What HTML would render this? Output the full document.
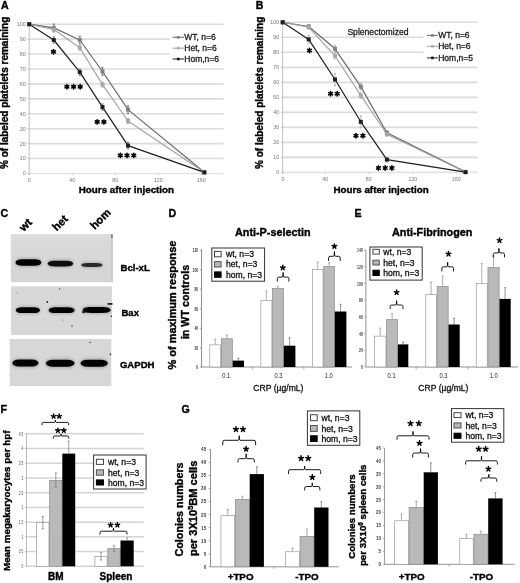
<!DOCTYPE html>
<html><head><meta charset="utf-8"><style>
html,body{margin:0;padding:0;background:#fff;}
body{width:520px;height:583px;overflow:hidden;}
svg{display:block;font-family:"Liberation Sans", sans-serif;will-change:transform;}
</style></head><body>
<svg width="520" height="583" viewBox="0 0 520 583">
<rect x="0" y="0" width="520" height="583" fill="#fff"/>
<line x1="29.2" y1="173.5" x2="223.7" y2="173.5" stroke="#e4e4e4" stroke-width="1.6" />
<line x1="29.2" y1="158.57" x2="223.7" y2="158.57" stroke="#dcdcdc" stroke-width="1.6" />
<line x1="29.2" y1="143.64" x2="223.7" y2="143.64" stroke="#dcdcdc" stroke-width="1.6" />
<line x1="29.2" y1="128.71" x2="223.7" y2="128.71" stroke="#dcdcdc" stroke-width="1.6" />
<line x1="29.2" y1="113.78" x2="223.7" y2="113.78" stroke="#dcdcdc" stroke-width="1.6" />
<line x1="29.2" y1="98.85" x2="223.7" y2="98.85" stroke="#dcdcdc" stroke-width="1.6" />
<line x1="29.2" y1="83.92" x2="223.7" y2="83.92" stroke="#dcdcdc" stroke-width="1.6" />
<line x1="29.2" y1="68.99" x2="223.7" y2="68.99" stroke="#dcdcdc" stroke-width="1.6" />
<line x1="29.2" y1="54.06" x2="169.6" y2="54.06" stroke="#dcdcdc" stroke-width="1.6" />
<line x1="29.2" y1="39.13" x2="169.6" y2="39.13" stroke="#dcdcdc" stroke-width="1.6" />
<line x1="29.2" y1="24.2" x2="223.7" y2="24.2" stroke="#dcdcdc" stroke-width="1.6" />
<line x1="29.2" y1="24.2" x2="29.2" y2="175.0" stroke="#b0b0b0" stroke-width="0.8" />
<line x1="27.2" y1="173.5" x2="29.2" y2="173.5" stroke="#b0b0b0" stroke-width="0.6" />
<line x1="27.2" y1="158.57" x2="29.2" y2="158.57" stroke="#b0b0b0" stroke-width="0.6" />
<line x1="27.2" y1="143.64" x2="29.2" y2="143.64" stroke="#b0b0b0" stroke-width="0.6" />
<line x1="27.2" y1="128.71" x2="29.2" y2="128.71" stroke="#b0b0b0" stroke-width="0.6" />
<line x1="27.2" y1="113.78" x2="29.2" y2="113.78" stroke="#b0b0b0" stroke-width="0.6" />
<line x1="27.2" y1="98.85" x2="29.2" y2="98.85" stroke="#b0b0b0" stroke-width="0.6" />
<line x1="27.2" y1="83.92" x2="29.2" y2="83.92" stroke="#b0b0b0" stroke-width="0.6" />
<line x1="27.2" y1="68.99" x2="29.2" y2="68.99" stroke="#b0b0b0" stroke-width="0.6" />
<line x1="27.2" y1="54.06" x2="29.2" y2="54.06" stroke="#b0b0b0" stroke-width="0.6" />
<line x1="27.2" y1="39.129999999999995" x2="29.2" y2="39.129999999999995" stroke="#b0b0b0" stroke-width="0.6" />
<line x1="27.2" y1="24.19999999999999" x2="29.2" y2="24.19999999999999" stroke="#b0b0b0" stroke-width="0.6" />
<text x="25.599999999999998" y="175.41" font-size="5.3" font-weight="normal" text-anchor="end" fill="#777" >0</text>
<text x="25.599999999999998" y="160.48" font-size="5.3" font-weight="normal" text-anchor="end" fill="#777" >10</text>
<text x="25.599999999999998" y="145.55" font-size="5.3" font-weight="normal" text-anchor="end" fill="#777" >20</text>
<text x="25.599999999999998" y="130.62" font-size="5.3" font-weight="normal" text-anchor="end" fill="#777" >30</text>
<text x="25.599999999999998" y="115.69" font-size="5.3" font-weight="normal" text-anchor="end" fill="#777" >40</text>
<text x="25.599999999999998" y="100.76" font-size="5.3" font-weight="normal" text-anchor="end" fill="#777" >50</text>
<text x="25.599999999999998" y="85.83" font-size="5.3" font-weight="normal" text-anchor="end" fill="#777" >60</text>
<text x="25.599999999999998" y="70.9" font-size="5.3" font-weight="normal" text-anchor="end" fill="#777" >70</text>
<text x="25.599999999999998" y="55.97" font-size="5.3" font-weight="normal" text-anchor="end" fill="#777" >80</text>
<text x="25.599999999999998" y="41.04" font-size="5.3" font-weight="normal" text-anchor="end" fill="#777" >90</text>
<text x="25.599999999999998" y="26.11" font-size="5.3" font-weight="normal" text-anchor="end" fill="#777" >100</text>
<text x="29.2" y="182.1" font-size="5.3" font-weight="normal" text-anchor="middle" fill="#777" >0</text>
<line x1="29.2" y1="173.5" x2="29.2" y2="175.3" stroke="#b0b0b0" stroke-width="0.6" />
<text x="72.2" y="182.1" font-size="5.3" font-weight="normal" text-anchor="middle" fill="#777" >40</text>
<line x1="72.2" y1="173.5" x2="72.2" y2="175.3" stroke="#b0b0b0" stroke-width="0.6" />
<text x="115.2" y="182.1" font-size="5.3" font-weight="normal" text-anchor="middle" fill="#777" >80</text>
<line x1="115.2" y1="173.5" x2="115.2" y2="175.3" stroke="#b0b0b0" stroke-width="0.6" />
<text x="158.2" y="182.1" font-size="5.3" font-weight="normal" text-anchor="middle" fill="#777" >120</text>
<line x1="158.2" y1="173.5" x2="158.2" y2="175.3" stroke="#b0b0b0" stroke-width="0.6" />
<text x="201.2" y="182.1" font-size="5.3" font-weight="normal" text-anchor="middle" fill="#777" >160</text>
<line x1="201.2" y1="173.5" x2="201.2" y2="175.3" stroke="#b0b0b0" stroke-width="0.6" />
<polyline points="29.2,24.2 53.8,27.9 79.8,40.0 102.5,71.5 128.0,109.6 204.3,172.2" fill="none" stroke="#6a6a6a" stroke-width="1.2" stroke-linejoin="round"/>
<polyline points="29.2,24.2 53.8,29.5 79.8,47.7 102.5,84.6 128.0,121.0 204.3,172.2" fill="none" stroke="#a0a0a0" stroke-width="1.1" stroke-linejoin="round"/>
<polyline points="29.2,24.2 53.8,40.0 79.8,72.1 102.5,107.1 128.0,145.6 204.3,172.4" fill="none" stroke="#1e1e1e" stroke-width="1.2" stroke-linejoin="round"/>
<line x1="53.8" y1="24.099999999999998" x2="53.8" y2="31.7" stroke="#606060" stroke-width="0.8" />
<line x1="52.699999999999996" y1="24.099999999999998" x2="54.9" y2="24.099999999999998" stroke="#606060" stroke-width="0.9" />
<line x1="52.699999999999996" y1="31.7" x2="54.9" y2="31.7" stroke="#606060" stroke-width="0.9" />
<line x1="79.8" y1="36.2" x2="79.8" y2="43.8" stroke="#606060" stroke-width="0.8" />
<line x1="78.7" y1="36.2" x2="80.89999999999999" y2="36.2" stroke="#606060" stroke-width="0.9" />
<line x1="78.7" y1="43.8" x2="80.89999999999999" y2="43.8" stroke="#606060" stroke-width="0.9" />
<line x1="102.5" y1="67.7" x2="102.5" y2="75.3" stroke="#606060" stroke-width="0.8" />
<line x1="101.4" y1="67.7" x2="103.6" y2="67.7" stroke="#606060" stroke-width="0.9" />
<line x1="101.4" y1="75.3" x2="103.6" y2="75.3" stroke="#606060" stroke-width="0.9" />
<line x1="128.0" y1="105.8" x2="128.0" y2="113.39999999999999" stroke="#606060" stroke-width="0.8" />
<line x1="126.9" y1="105.8" x2="129.1" y2="105.8" stroke="#606060" stroke-width="0.9" />
<line x1="126.9" y1="113.39999999999999" x2="129.1" y2="113.39999999999999" stroke="#606060" stroke-width="0.9" />
<line x1="53.8" y1="27.0" x2="53.8" y2="32.0" stroke="#a0a0a0" stroke-width="0.8" />
<line x1="52.699999999999996" y1="27.0" x2="54.9" y2="27.0" stroke="#a0a0a0" stroke-width="0.9" />
<line x1="52.699999999999996" y1="32.0" x2="54.9" y2="32.0" stroke="#a0a0a0" stroke-width="0.9" />
<line x1="79.8" y1="45.2" x2="79.8" y2="50.2" stroke="#a0a0a0" stroke-width="0.8" />
<line x1="78.7" y1="45.2" x2="80.89999999999999" y2="45.2" stroke="#a0a0a0" stroke-width="0.9" />
<line x1="78.7" y1="50.2" x2="80.89999999999999" y2="50.2" stroke="#a0a0a0" stroke-width="0.9" />
<line x1="102.5" y1="82.1" x2="102.5" y2="87.1" stroke="#a0a0a0" stroke-width="0.8" />
<line x1="101.4" y1="82.1" x2="103.6" y2="82.1" stroke="#a0a0a0" stroke-width="0.9" />
<line x1="101.4" y1="87.1" x2="103.6" y2="87.1" stroke="#a0a0a0" stroke-width="0.9" />
<line x1="128.0" y1="118.5" x2="128.0" y2="123.5" stroke="#a0a0a0" stroke-width="0.8" />
<line x1="126.9" y1="118.5" x2="129.1" y2="118.5" stroke="#a0a0a0" stroke-width="0.9" />
<line x1="126.9" y1="123.5" x2="129.1" y2="123.5" stroke="#a0a0a0" stroke-width="0.9" />
<line x1="53.8" y1="36.8" x2="53.8" y2="43.2" stroke="#707070" stroke-width="0.8" />
<line x1="52.699999999999996" y1="36.8" x2="54.9" y2="36.8" stroke="#707070" stroke-width="0.9" />
<line x1="52.699999999999996" y1="43.2" x2="54.9" y2="43.2" stroke="#707070" stroke-width="0.9" />
<line x1="79.8" y1="68.89999999999999" x2="79.8" y2="75.3" stroke="#707070" stroke-width="0.8" />
<line x1="78.7" y1="68.89999999999999" x2="80.89999999999999" y2="68.89999999999999" stroke="#707070" stroke-width="0.9" />
<line x1="78.7" y1="75.3" x2="80.89999999999999" y2="75.3" stroke="#707070" stroke-width="0.9" />
<line x1="102.5" y1="103.89999999999999" x2="102.5" y2="110.3" stroke="#707070" stroke-width="0.8" />
<line x1="101.4" y1="103.89999999999999" x2="103.6" y2="103.89999999999999" stroke="#707070" stroke-width="0.9" />
<line x1="101.4" y1="110.3" x2="103.6" y2="110.3" stroke="#707070" stroke-width="0.9" />
<line x1="128.0" y1="142.4" x2="128.0" y2="148.79999999999998" stroke="#707070" stroke-width="0.8" />
<line x1="126.9" y1="142.4" x2="129.1" y2="142.4" stroke="#707070" stroke-width="0.9" />
<line x1="126.9" y1="148.79999999999998" x2="129.1" y2="148.79999999999998" stroke="#707070" stroke-width="0.9" />
<rect x="27.2" y="22.2" width="4.0" height="4.0" fill="#808080" stroke="none" stroke-width="1" />
<rect x="51.8" y="25.9" width="4.0" height="4.0" fill="#808080" stroke="none" stroke-width="1" />
<rect x="77.8" y="38.0" width="4.0" height="4.0" fill="#808080" stroke="none" stroke-width="1" />
<rect x="100.5" y="69.5" width="4.0" height="4.0" fill="#808080" stroke="none" stroke-width="1" />
<rect x="126.0" y="107.6" width="4.0" height="4.0" fill="#808080" stroke="none" stroke-width="1" />
<rect x="202.3" y="170.2" width="4.0" height="4.0" fill="#808080" stroke="none" stroke-width="1" />
<rect x="27.2" y="22.2" width="4.0" height="4.0" fill="#a8a8a8" stroke="none" stroke-width="1" />
<rect x="51.8" y="27.5" width="4.0" height="4.0" fill="#a8a8a8" stroke="none" stroke-width="1" />
<rect x="77.8" y="45.7" width="4.0" height="4.0" fill="#a8a8a8" stroke="none" stroke-width="1" />
<rect x="100.5" y="82.6" width="4.0" height="4.0" fill="#a8a8a8" stroke="none" stroke-width="1" />
<rect x="126.0" y="119.0" width="4.0" height="4.0" fill="#a8a8a8" stroke="none" stroke-width="1" />
<rect x="202.3" y="170.2" width="4.0" height="4.0" fill="#a8a8a8" stroke="none" stroke-width="1" />
<rect x="27.2" y="22.2" width="4.0" height="4.0" fill="#1e1e1e" stroke="none" stroke-width="1" />
<rect x="51.8" y="38.0" width="4.0" height="4.0" fill="#1e1e1e" stroke="none" stroke-width="1" />
<rect x="77.8" y="70.1" width="4.0" height="4.0" fill="#1e1e1e" stroke="none" stroke-width="1" />
<rect x="100.5" y="105.1" width="4.0" height="4.0" fill="#1e1e1e" stroke="none" stroke-width="1" />
<rect x="126.0" y="143.6" width="4.0" height="4.0" fill="#1e1e1e" stroke="none" stroke-width="1" />
<rect x="202.3" y="170.4" width="4.0" height="4.0" fill="#1e1e1e" stroke="none" stroke-width="1" />
<path d="M53.50,49.60L53.50,54.00M55.41,50.70L51.59,52.90M55.41,52.90L51.59,50.70" stroke="#000" stroke-width="1.6" stroke-linecap="round" fill="none"/>
<path d="M66.90,84.60L66.90,89.00M68.81,85.70L64.99,87.90M68.81,87.90L64.99,85.70" stroke="#000" stroke-width="1.6" stroke-linecap="round" fill="none"/>
<path d="M73.60,84.60L73.60,89.00M75.51,85.70L71.69,87.90M75.51,87.90L71.69,85.70" stroke="#000" stroke-width="1.6" stroke-linecap="round" fill="none"/>
<path d="M80.20,84.60L80.20,89.00M82.11,85.70L78.29,87.90M82.11,87.90L78.29,85.70" stroke="#000" stroke-width="1.6" stroke-linecap="round" fill="none"/>
<path d="M97.20,119.70L97.20,124.10M99.11,120.80L95.29,123.00M99.11,123.00L95.29,120.80" stroke="#000" stroke-width="1.6" stroke-linecap="round" fill="none"/>
<path d="M103.90,119.70L103.90,124.10M105.81,120.80L101.99,123.00M105.81,123.00L101.99,120.80" stroke="#000" stroke-width="1.6" stroke-linecap="round" fill="none"/>
<path d="M120.30,153.20L120.30,157.60M122.21,154.30L118.39,156.50M122.21,156.50L118.39,154.30" stroke="#000" stroke-width="1.6" stroke-linecap="round" fill="none"/>
<path d="M127.00,153.20L127.00,157.60M128.91,154.30L125.09,156.50M128.91,156.50L125.09,154.30" stroke="#000" stroke-width="1.6" stroke-linecap="round" fill="none"/>
<path d="M133.75,153.20L133.75,157.60M135.66,154.30L131.84,156.50M135.66,156.50L131.84,154.30" stroke="#000" stroke-width="1.6" stroke-linecap="round" fill="none"/>
<line x1="172.5" y1="37.3" x2="184" y2="37.3" stroke="#6a6a6a" stroke-width="1.0" />
<rect x="176.95" y="36.0" width="2.6" height="2.6" fill="#7a7a7a" stroke="none" stroke-width="1" />
<text x="184.3" y="40.3" font-size="8.5" font-weight="normal" text-anchor="start" fill="#1a1a1a" stroke="#1a1a1a" stroke-width="0.3" stroke-linejoin="round" >WT, n=6</text>
<line x1="172.5" y1="48.2" x2="184" y2="48.2" stroke="#a0a0a0" stroke-width="1.0" />
<rect x="176.95" y="46.9" width="2.6" height="2.6" fill="#aaa" stroke="none" stroke-width="1" />
<text x="184.3" y="51.2" font-size="8.5" font-weight="normal" text-anchor="start" fill="#1a1a1a" stroke="#1a1a1a" stroke-width="0.3" stroke-linejoin="round" >Het,  n=6</text>
<line x1="172.5" y1="59.0" x2="184" y2="59.0" stroke="#1e1e1e" stroke-width="1.0" />
<rect x="176.95" y="57.7" width="2.6" height="2.6" fill="#111" stroke="none" stroke-width="1" />
<text x="184.3" y="62.0" font-size="8.5" font-weight="normal" text-anchor="start" fill="#1a1a1a" stroke="#1a1a1a" stroke-width="0.3" stroke-linejoin="round" >Hom,n=6</text>
<text x="78.8" y="193.2" font-size="9.8" font-weight="bold" text-anchor="start" fill="#000" stroke="#000" stroke-width="0.38" stroke-linejoin="round" >Hours after injection</text>
<text transform="translate(8.0,92.85) rotate(-90)" font-size="10.0" font-weight="bold" text-anchor="middle" fill="#000" stroke="#000" stroke-width="0.38" stroke-linejoin="round" >% of labeled platelets remaining</text>
<text x="1.0" y="9.0" font-size="10.6" font-weight="bold" text-anchor="start" fill="#000" stroke="#000" stroke-width="0.38" stroke-linejoin="round" >A</text>
<line x1="282.7" y1="172.4" x2="477.7" y2="172.4" stroke="#e4e4e4" stroke-width="1.6" />
<line x1="282.7" y1="157.39" x2="477.7" y2="157.39" stroke="#dcdcdc" stroke-width="1.6" />
<line x1="282.7" y1="142.38" x2="477.7" y2="142.38" stroke="#dcdcdc" stroke-width="1.6" />
<line x1="282.7" y1="127.37" x2="477.7" y2="127.37" stroke="#dcdcdc" stroke-width="1.6" />
<line x1="282.7" y1="112.36" x2="477.7" y2="112.36" stroke="#dcdcdc" stroke-width="1.6" />
<line x1="282.7" y1="97.35" x2="477.7" y2="97.35" stroke="#dcdcdc" stroke-width="1.6" />
<line x1="282.7" y1="82.34" x2="477.7" y2="82.34" stroke="#dcdcdc" stroke-width="1.6" />
<line x1="282.7" y1="67.33" x2="477.7" y2="67.33" stroke="#dcdcdc" stroke-width="1.6" />
<line x1="282.7" y1="52.32" x2="423.5" y2="52.32" stroke="#dcdcdc" stroke-width="1.6" />
<line x1="282.7" y1="37.31" x2="423.5" y2="37.31" stroke="#dcdcdc" stroke-width="1.6" />
<line x1="282.7" y1="22.3" x2="477.7" y2="22.3" stroke="#dcdcdc" stroke-width="1.6" />
<line x1="282.7" y1="22.3" x2="282.7" y2="173.9" stroke="#b0b0b0" stroke-width="0.8" />
<line x1="280.7" y1="172.4" x2="282.7" y2="172.4" stroke="#b0b0b0" stroke-width="0.6" />
<line x1="280.7" y1="157.39000000000001" x2="282.7" y2="157.39000000000001" stroke="#b0b0b0" stroke-width="0.6" />
<line x1="280.7" y1="142.38" x2="282.7" y2="142.38" stroke="#b0b0b0" stroke-width="0.6" />
<line x1="280.7" y1="127.37" x2="282.7" y2="127.37" stroke="#b0b0b0" stroke-width="0.6" />
<line x1="280.7" y1="112.36000000000001" x2="282.7" y2="112.36000000000001" stroke="#b0b0b0" stroke-width="0.6" />
<line x1="280.7" y1="97.35000000000001" x2="282.7" y2="97.35000000000001" stroke="#b0b0b0" stroke-width="0.6" />
<line x1="280.7" y1="82.34" x2="282.7" y2="82.34" stroke="#b0b0b0" stroke-width="0.6" />
<line x1="280.7" y1="67.33000000000001" x2="282.7" y2="67.33000000000001" stroke="#b0b0b0" stroke-width="0.6" />
<line x1="280.7" y1="52.32000000000001" x2="282.7" y2="52.32000000000001" stroke="#b0b0b0" stroke-width="0.6" />
<line x1="280.7" y1="37.31" x2="282.7" y2="37.31" stroke="#b0b0b0" stroke-width="0.6" />
<line x1="280.7" y1="22.30000000000001" x2="282.7" y2="22.30000000000001" stroke="#b0b0b0" stroke-width="0.6" />
<text x="279.09999999999997" y="174.31" font-size="5.3" font-weight="normal" text-anchor="end" fill="#777" >0</text>
<text x="279.09999999999997" y="159.3" font-size="5.3" font-weight="normal" text-anchor="end" fill="#777" >10</text>
<text x="279.09999999999997" y="144.29" font-size="5.3" font-weight="normal" text-anchor="end" fill="#777" >20</text>
<text x="279.09999999999997" y="129.28" font-size="5.3" font-weight="normal" text-anchor="end" fill="#777" >30</text>
<text x="279.09999999999997" y="114.27" font-size="5.3" font-weight="normal" text-anchor="end" fill="#777" >40</text>
<text x="279.09999999999997" y="99.26" font-size="5.3" font-weight="normal" text-anchor="end" fill="#777" >50</text>
<text x="279.09999999999997" y="84.25" font-size="5.3" font-weight="normal" text-anchor="end" fill="#777" >60</text>
<text x="279.09999999999997" y="69.24" font-size="5.3" font-weight="normal" text-anchor="end" fill="#777" >70</text>
<text x="279.09999999999997" y="54.23" font-size="5.3" font-weight="normal" text-anchor="end" fill="#777" >80</text>
<text x="279.09999999999997" y="39.22" font-size="5.3" font-weight="normal" text-anchor="end" fill="#777" >90</text>
<text x="279.09999999999997" y="24.21" font-size="5.3" font-weight="normal" text-anchor="end" fill="#777" >100</text>
<text x="282.9" y="181.0" font-size="5.3" font-weight="normal" text-anchor="middle" fill="#777" >0</text>
<line x1="282.9" y1="172.4" x2="282.9" y2="174.20000000000002" stroke="#b0b0b0" stroke-width="0.6" />
<text x="325.3" y="181.0" font-size="5.3" font-weight="normal" text-anchor="middle" fill="#777" >40</text>
<line x1="325.3" y1="172.4" x2="325.3" y2="174.20000000000002" stroke="#b0b0b0" stroke-width="0.6" />
<text x="368.7" y="181.0" font-size="5.3" font-weight="normal" text-anchor="middle" fill="#777" >80</text>
<line x1="368.7" y1="172.4" x2="368.7" y2="174.20000000000002" stroke="#b0b0b0" stroke-width="0.6" />
<text x="412.8" y="181.0" font-size="5.3" font-weight="normal" text-anchor="middle" fill="#777" >120</text>
<line x1="412.8" y1="172.4" x2="412.8" y2="174.20000000000002" stroke="#b0b0b0" stroke-width="0.6" />
<text x="456.2" y="181.0" font-size="5.3" font-weight="normal" text-anchor="middle" fill="#777" >160</text>
<line x1="456.2" y1="172.4" x2="456.2" y2="174.20000000000002" stroke="#b0b0b0" stroke-width="0.6" />
<polyline points="282.7,22.3 308.7,26.5 335.0,48.8 360.8,86.6 386.9,132.7 465.5,171.9" fill="none" stroke="#6a6a6a" stroke-width="1.2" stroke-linejoin="round"/>
<polyline points="282.7,22.3 308.7,27.3 335.0,55.8 360.8,95.4 386.9,134.2 465.5,171.9" fill="none" stroke="#a0a0a0" stroke-width="1.1" stroke-linejoin="round"/>
<polyline points="282.7,22.3 308.7,39.4 335.0,79.5 360.8,121.8 386.9,159.6 465.5,172.2" fill="none" stroke="#1e1e1e" stroke-width="1.2" stroke-linejoin="round"/>
<line x1="308.7" y1="24.5" x2="308.7" y2="28.5" stroke="#a0a0a0" stroke-width="0.8" />
<line x1="307.59999999999997" y1="24.5" x2="309.8" y2="24.5" stroke="#a0a0a0" stroke-width="0.9" />
<line x1="307.59999999999997" y1="28.5" x2="309.8" y2="28.5" stroke="#a0a0a0" stroke-width="0.9" />
<line x1="335.0" y1="45.8" x2="335.0" y2="51.8" stroke="#a0a0a0" stroke-width="0.8" />
<line x1="333.9" y1="45.8" x2="336.1" y2="45.8" stroke="#a0a0a0" stroke-width="0.9" />
<line x1="333.9" y1="51.8" x2="336.1" y2="51.8" stroke="#a0a0a0" stroke-width="0.9" />
<line x1="360.8" y1="83.6" x2="360.8" y2="89.6" stroke="#a0a0a0" stroke-width="0.8" />
<line x1="359.7" y1="83.6" x2="361.90000000000003" y2="83.6" stroke="#a0a0a0" stroke-width="0.9" />
<line x1="359.7" y1="89.6" x2="361.90000000000003" y2="89.6" stroke="#a0a0a0" stroke-width="0.9" />
<line x1="386.9" y1="130.7" x2="386.9" y2="134.7" stroke="#a0a0a0" stroke-width="0.8" />
<line x1="385.79999999999995" y1="130.7" x2="388.0" y2="130.7" stroke="#a0a0a0" stroke-width="0.9" />
<line x1="385.79999999999995" y1="134.7" x2="388.0" y2="134.7" stroke="#a0a0a0" stroke-width="0.9" />
<line x1="308.7" y1="25.3" x2="308.7" y2="29.3" stroke="#b0b0b0" stroke-width="0.8" />
<line x1="307.59999999999997" y1="25.3" x2="309.8" y2="25.3" stroke="#b0b0b0" stroke-width="0.9" />
<line x1="307.59999999999997" y1="29.3" x2="309.8" y2="29.3" stroke="#b0b0b0" stroke-width="0.9" />
<line x1="335.0" y1="52.8" x2="335.0" y2="58.8" stroke="#b0b0b0" stroke-width="0.8" />
<line x1="333.9" y1="52.8" x2="336.1" y2="52.8" stroke="#b0b0b0" stroke-width="0.9" />
<line x1="333.9" y1="58.8" x2="336.1" y2="58.8" stroke="#b0b0b0" stroke-width="0.9" />
<line x1="360.8" y1="92.4" x2="360.8" y2="98.4" stroke="#b0b0b0" stroke-width="0.8" />
<line x1="359.7" y1="92.4" x2="361.90000000000003" y2="92.4" stroke="#b0b0b0" stroke-width="0.9" />
<line x1="359.7" y1="98.4" x2="361.90000000000003" y2="98.4" stroke="#b0b0b0" stroke-width="0.9" />
<line x1="386.9" y1="132.2" x2="386.9" y2="136.2" stroke="#b0b0b0" stroke-width="0.8" />
<line x1="385.79999999999995" y1="132.2" x2="388.0" y2="132.2" stroke="#b0b0b0" stroke-width="0.9" />
<line x1="385.79999999999995" y1="136.2" x2="388.0" y2="136.2" stroke="#b0b0b0" stroke-width="0.9" />
<line x1="308.7" y1="35.4" x2="308.7" y2="43.4" stroke="#a8a8a8" stroke-width="0.8" />
<line x1="307.59999999999997" y1="35.4" x2="309.8" y2="35.4" stroke="#a8a8a8" stroke-width="0.9" />
<line x1="307.59999999999997" y1="43.4" x2="309.8" y2="43.4" stroke="#a8a8a8" stroke-width="0.9" />
<line x1="335.0" y1="73.5" x2="335.0" y2="85.5" stroke="#a8a8a8" stroke-width="0.8" />
<line x1="333.9" y1="73.5" x2="336.1" y2="73.5" stroke="#a8a8a8" stroke-width="0.9" />
<line x1="333.9" y1="85.5" x2="336.1" y2="85.5" stroke="#a8a8a8" stroke-width="0.9" />
<line x1="360.8" y1="115.8" x2="360.8" y2="127.8" stroke="#a8a8a8" stroke-width="0.8" />
<line x1="359.7" y1="115.8" x2="361.90000000000003" y2="115.8" stroke="#a8a8a8" stroke-width="0.9" />
<line x1="359.7" y1="127.8" x2="361.90000000000003" y2="127.8" stroke="#a8a8a8" stroke-width="0.9" />
<line x1="386.9" y1="157.1" x2="386.9" y2="162.1" stroke="#a8a8a8" stroke-width="0.8" />
<line x1="385.79999999999995" y1="157.1" x2="388.0" y2="157.1" stroke="#a8a8a8" stroke-width="0.9" />
<line x1="385.79999999999995" y1="162.1" x2="388.0" y2="162.1" stroke="#a8a8a8" stroke-width="0.9" />
<rect x="280.7" y="20.3" width="4.0" height="4.0" fill="#808080" stroke="none" stroke-width="1" />
<rect x="306.7" y="24.5" width="4.0" height="4.0" fill="#808080" stroke="none" stroke-width="1" />
<rect x="333.0" y="46.8" width="4.0" height="4.0" fill="#808080" stroke="none" stroke-width="1" />
<rect x="358.8" y="84.6" width="4.0" height="4.0" fill="#808080" stroke="none" stroke-width="1" />
<rect x="384.9" y="130.7" width="4.0" height="4.0" fill="#808080" stroke="none" stroke-width="1" />
<rect x="463.5" y="169.9" width="4.0" height="4.0" fill="#808080" stroke="none" stroke-width="1" />
<rect x="280.7" y="20.3" width="4.0" height="4.0" fill="#a8a8a8" stroke="none" stroke-width="1" />
<rect x="306.7" y="25.3" width="4.0" height="4.0" fill="#a8a8a8" stroke="none" stroke-width="1" />
<rect x="333.0" y="53.8" width="4.0" height="4.0" fill="#a8a8a8" stroke="none" stroke-width="1" />
<rect x="358.8" y="93.4" width="4.0" height="4.0" fill="#a8a8a8" stroke="none" stroke-width="1" />
<rect x="384.9" y="132.2" width="4.0" height="4.0" fill="#a8a8a8" stroke="none" stroke-width="1" />
<rect x="463.5" y="169.9" width="4.0" height="4.0" fill="#a8a8a8" stroke="none" stroke-width="1" />
<rect x="280.7" y="20.3" width="4.0" height="4.0" fill="#1e1e1e" stroke="none" stroke-width="1" />
<rect x="306.7" y="37.4" width="4.0" height="4.0" fill="#1e1e1e" stroke="none" stroke-width="1" />
<rect x="333.0" y="77.5" width="4.0" height="4.0" fill="#1e1e1e" stroke="none" stroke-width="1" />
<rect x="358.8" y="119.8" width="4.0" height="4.0" fill="#1e1e1e" stroke="none" stroke-width="1" />
<rect x="384.9" y="157.6" width="4.0" height="4.0" fill="#1e1e1e" stroke="none" stroke-width="1" />
<rect x="463.5" y="170.2" width="4.0" height="4.0" fill="#1e1e1e" stroke="none" stroke-width="1" />
<path d="M309.50,48.30L309.50,52.70M311.41,49.40L307.59,51.60M311.41,51.60L307.59,49.40" stroke="#000" stroke-width="1.6" stroke-linecap="round" fill="none"/>
<path d="M330.60,91.50L330.60,95.90M332.51,92.60L328.69,94.80M332.51,94.80L328.69,92.60" stroke="#000" stroke-width="1.6" stroke-linecap="round" fill="none"/>
<path d="M337.20,91.50L337.20,95.90M339.11,92.60L335.29,94.80M339.11,94.80L335.29,92.60" stroke="#000" stroke-width="1.6" stroke-linecap="round" fill="none"/>
<path d="M355.90,133.50L355.90,137.90M357.81,134.60L353.99,136.80M357.81,136.80L353.99,134.60" stroke="#000" stroke-width="1.6" stroke-linecap="round" fill="none"/>
<path d="M362.90,133.50L362.90,137.90M364.81,134.60L360.99,136.80M364.81,136.80L360.99,134.60" stroke="#000" stroke-width="1.6" stroke-linecap="round" fill="none"/>
<path d="M378.50,165.80L378.50,170.20M380.41,166.90L376.59,169.10M380.41,169.10L376.59,166.90" stroke="#000" stroke-width="1.6" stroke-linecap="round" fill="none"/>
<path d="M385.20,165.80L385.20,170.20M387.11,166.90L383.29,169.10M387.11,169.10L383.29,166.90" stroke="#000" stroke-width="1.6" stroke-linecap="round" fill="none"/>
<path d="M391.90,165.80L391.90,170.20M393.81,166.90L389.99,169.10M393.81,169.10L389.99,166.90" stroke="#000" stroke-width="1.6" stroke-linecap="round" fill="none"/>
<line x1="426.9" y1="35.4" x2="437.9" y2="35.4" stroke="#6a6a6a" stroke-width="1.0" />
<rect x="431.1" y="34.1" width="2.6" height="2.6" fill="#7a7a7a" stroke="none" stroke-width="1" />
<text x="438.2" y="38.4" font-size="8.5" font-weight="normal" text-anchor="start" fill="#1a1a1a" stroke="#1a1a1a" stroke-width="0.3" stroke-linejoin="round" >WT, n=6</text>
<line x1="426.9" y1="46.3" x2="437.9" y2="46.3" stroke="#a0a0a0" stroke-width="1.0" />
<rect x="431.1" y="45.0" width="2.6" height="2.6" fill="#aaa" stroke="none" stroke-width="1" />
<text x="438.2" y="49.3" font-size="8.5" font-weight="normal" text-anchor="start" fill="#1a1a1a" stroke="#1a1a1a" stroke-width="0.3" stroke-linejoin="round" >Het,  n=6</text>
<line x1="426.9" y1="57.9" x2="437.9" y2="57.9" stroke="#1e1e1e" stroke-width="1.0" />
<rect x="431.1" y="56.6" width="2.6" height="2.6" fill="#111" stroke="none" stroke-width="1" />
<text x="438.2" y="60.9" font-size="8.5" font-weight="normal" text-anchor="start" fill="#1a1a1a" stroke="#1a1a1a" stroke-width="0.3" stroke-linejoin="round" >Hom,n=5</text>
<text x="333.4" y="192.6" font-size="9.8" font-weight="bold" text-anchor="start" fill="#000" stroke="#000" stroke-width="0.38" stroke-linejoin="round" >Hours after injection</text>
<text transform="translate(263.2,92.85) rotate(-90)" font-size="10.0" font-weight="bold" text-anchor="middle" fill="#000" stroke="#000" stroke-width="0.38" stroke-linejoin="round" >% of labeled platelets remaining</text>
<text x="255.8" y="9.0" font-size="10.6" font-weight="bold" text-anchor="start" fill="#000" stroke="#000" stroke-width="0.38" stroke-linejoin="round" >B</text>
<text x="347.4" y="35.0" font-size="8.6" font-weight="normal" text-anchor="start" fill="#222" stroke="#222" stroke-width="0.3" stroke-linejoin="round" >Splenectomized</text>
<defs>
<filter id="blur1" x="-20%" y="-50%" width="140%" height="200%"><feGaussianBlur stdDeviation="0.9"/></filter>
<filter id="blur2" x="-20%" y="-50%" width="140%" height="200%"><feGaussianBlur stdDeviation="0.75"/></filter>
<filter id="blur3" x="-20%" y="-80%" width="140%" height="260%"><feGaussianBlur stdDeviation="1.1"/></filter>
<filter id="blur05"><feGaussianBlur stdDeviation="0.45"/></filter>
<linearGradient id="blotg1" x1="0" y1="0" x2="0" y2="1"><stop offset="0" stop-color="#dedede"/><stop offset="0.25" stop-color="#d8d8d8"/><stop offset="1" stop-color="#d5d5d5"/></linearGradient>
</defs>
<text x="0.6" y="217.0" font-size="10.6" font-weight="bold" text-anchor="start" fill="#000" stroke="#000" stroke-width="0.38" stroke-linejoin="round" >C</text>
<text x="25.4" y="228.75" font-size="11.2" font-weight="bold" text-anchor="middle" fill="#000" stroke="#000" stroke-width="0.38" stroke-linejoin="round" transform="rotate(-45 25.4 224.85)">wt</text>
<text x="60.0" y="226.8" font-size="11.2" font-weight="bold" text-anchor="middle" fill="#000" stroke="#000" stroke-width="0.38" stroke-linejoin="round" transform="rotate(-45 60.0 222.9)">het</text>
<text x="100.35" y="222.75" font-size="11.2" font-weight="bold" text-anchor="middle" fill="#000" stroke="#000" stroke-width="0.38" stroke-linejoin="round" transform="rotate(-45 100.35 218.85)">hom</text>
<rect x="10.8" y="234.0" width="101.9" height="48.2" fill="url(#blotg1)" stroke="none" stroke-width="1" />
<rect x="111.2" y="234.0" width="1.5" height="48.2" fill="#c6c6c6" stroke="none" stroke-width="1" />
<ellipse cx="111.9" cy="236.3" rx="0.9" ry="2.0" fill="#7a7a7a" filter="url(#blur05)"/>
<rect x="11.0" y="286.4" width="101.0" height="48.6" fill="#d8d8d8" stroke="none" stroke-width="1" />
<rect x="9.7" y="339.0" width="101.6" height="47.0" fill="#d7d7d7" stroke="none" stroke-width="1" />
<path d="M15.50,262.50 C16.02,260.42 18.09,259.30 23.27,259.30 L33.63,259.30 C38.81,259.30 40.88,260.42 41.40,262.50 C40.88,264.58 38.81,265.70 33.63,265.70 L23.27,265.70 C18.09,265.70 16.02,264.58 15.50,262.50 Z" fill="#555" opacity="0.35" filter="url(#blur3)" transform="translate(28.45,262.50) scale(1.06,1.35) translate(-28.45,-262.50)"/>
<path d="M15.50,262.50 C16.02,260.42 18.09,259.30 23.27,259.30 L33.63,259.30 C38.81,259.30 40.88,260.42 41.40,262.50 C40.88,264.58 38.81,265.70 33.63,265.70 L23.27,265.70 C18.09,265.70 16.02,264.58 15.50,262.50 Z" fill="#050505" opacity="1.0" filter="url(#blur2)"/>
<path d="M47.60,263.60 C48.11,261.72 50.16,260.70 55.28,260.70 L65.52,260.70 C70.64,260.70 72.69,261.72 73.20,263.60 C72.69,265.49 70.64,266.50 65.52,266.50 L55.28,266.50 C50.16,266.50 48.11,265.49 47.60,263.60 Z" fill="#555" opacity="0.35" filter="url(#blur3)" transform="translate(60.40,263.60) scale(1.06,1.35) translate(-60.40,-263.60)"/>
<path d="M47.60,263.60 C48.11,261.72 50.16,260.70 55.28,260.70 L65.52,260.70 C70.64,260.70 72.69,261.72 73.20,263.60 C72.69,265.49 70.64,266.50 65.52,266.50 L55.28,266.50 C50.16,266.50 48.11,265.49 47.60,263.60 Z" fill="#0a0a0a" opacity="1.0" filter="url(#blur2)"/>
<path d="M81.20,265.00 C81.63,263.70 83.34,263.00 87.62,263.00 L96.18,263.00 C100.46,263.00 102.17,263.70 102.60,265.00 C102.17,266.30 100.46,267.00 96.18,267.00 L87.62,267.00 C83.34,267.00 81.63,266.30 81.20,265.00 Z" fill="#555" opacity="0.35" filter="url(#blur3)" transform="translate(91.90,265.00) scale(1.06,1.35) translate(-91.90,-265.00)"/>
<path d="M81.20,265.00 C81.63,263.70 83.34,263.00 87.62,263.00 L96.18,263.00 C100.46,263.00 102.17,263.70 102.60,265.00 C102.17,266.30 100.46,267.00 96.18,267.00 L87.62,267.00 C83.34,267.00 81.63,266.30 81.20,265.00 Z" fill="#2c2c2c" opacity="1.0" filter="url(#blur2)"/>
<path d="M15.80,310.20 C16.28,308.31 18.22,307.30 23.06,307.30 L32.74,307.30 C37.58,307.30 39.52,308.31 40.00,310.20 C39.52,312.08 37.58,313.10 32.74,313.10 L23.06,313.10 C18.22,313.10 16.28,312.08 15.80,310.20 Z" fill="#555" opacity="0.35" filter="url(#blur3)" transform="translate(27.90,310.20) scale(1.06,1.35) translate(-27.90,-310.20)"/>
<path d="M15.80,310.20 C16.28,308.31 18.22,307.30 23.06,307.30 L32.74,307.30 C37.58,307.30 39.52,308.31 40.00,310.20 C39.52,312.08 37.58,313.10 32.74,313.10 L23.06,313.10 C18.22,313.10 16.28,312.08 15.80,310.20 Z" fill="#050505" opacity="1.0" filter="url(#blur2)"/>
<path d="M48.60,310.20 C49.12,308.31 51.20,307.30 56.40,307.30 L66.80,307.30 C72.00,307.30 74.08,308.31 74.60,310.20 C74.08,312.08 72.00,313.10 66.80,313.10 L56.40,313.10 C51.20,313.10 49.12,312.08 48.60,310.20 Z" fill="#555" opacity="0.35" filter="url(#blur3)" transform="translate(61.60,310.20) scale(1.06,1.35) translate(-61.60,-310.20)"/>
<path d="M48.60,310.20 C49.12,308.31 51.20,307.30 56.40,307.30 L66.80,307.30 C72.00,307.30 74.08,308.31 74.60,310.20 C74.08,312.08 72.00,313.10 66.80,313.10 L56.40,313.10 C51.20,313.10 49.12,312.08 48.60,310.20 Z" fill="#050505" opacity="1.0" filter="url(#blur2)"/>
<path d="M82.60,310.00 C83.16,308.12 85.40,307.10 91.00,307.10 L102.20,307.10 C107.80,307.10 110.04,308.12 110.60,310.00 C110.04,311.88 107.80,312.90 102.20,312.90 L91.00,312.90 C85.40,312.90 83.16,311.88 82.60,310.00 Z" fill="#555" opacity="0.35" filter="url(#blur3)" transform="translate(96.60,310.00) scale(1.06,1.35) translate(-96.60,-310.00)"/>
<path d="M82.60,310.00 C83.16,308.12 85.40,307.10 91.00,307.10 L102.20,307.10 C107.80,307.10 110.04,308.12 110.60,310.00 C110.04,311.88 107.80,312.90 102.20,312.90 L91.00,312.90 C85.40,312.90 83.16,311.88 82.60,310.00 Z" fill="#050505" opacity="1.0" filter="url(#blur2)"/>
<ellipse cx="83.6" cy="312.0" rx="1.6" ry="1.3" fill="#222" filter="url(#blur05)"/>
<path d="M12.30,363.10 C12.82,360.83 14.92,359.60 20.16,359.60 L30.64,359.60 C35.88,359.60 37.98,360.83 38.50,363.10 C37.98,365.38 35.88,366.60 30.64,366.60 L20.16,366.60 C14.92,366.60 12.82,365.38 12.30,363.10 Z" fill="#555" opacity="0.35" filter="url(#blur3)" transform="translate(25.40,363.10) scale(1.06,1.35) translate(-25.40,-363.10)"/>
<path d="M12.30,363.10 C12.82,360.83 14.92,359.60 20.16,359.60 L30.64,359.60 C35.88,359.60 37.98,360.83 38.50,363.10 C37.98,365.38 35.88,366.60 30.64,366.60 L20.16,366.60 C14.92,366.60 12.82,365.38 12.30,363.10 Z" fill="#050505" opacity="1.0" filter="url(#blur2)"/>
<path d="M45.80,363.20 C46.38,360.93 48.68,359.70 54.44,359.70 L65.96,359.70 C71.72,359.70 74.02,360.93 74.60,363.20 C74.02,365.47 71.72,366.70 65.96,366.70 L54.44,366.70 C48.68,366.70 46.38,365.47 45.80,363.20 Z" fill="#555" opacity="0.35" filter="url(#blur3)" transform="translate(60.20,363.20) scale(1.06,1.35) translate(-60.20,-363.20)"/>
<path d="M45.80,363.20 C46.38,360.93 48.68,359.70 54.44,359.70 L65.96,359.70 C71.72,359.70 74.02,360.93 74.60,363.20 C74.02,365.47 71.72,366.70 65.96,366.70 L54.44,366.70 C48.68,366.70 46.38,365.47 45.80,363.20 Z" fill="#050505" opacity="1.0" filter="url(#blur2)"/>
<path d="M80.50,363.20 C81.05,360.93 83.23,359.70 88.69,359.70 L99.61,359.70 C105.07,359.70 107.25,360.93 107.80,363.20 C107.25,365.47 105.07,366.70 99.61,366.70 L88.69,366.70 C83.23,366.70 81.05,365.47 80.50,363.20 Z" fill="#555" opacity="0.35" filter="url(#blur3)" transform="translate(94.15,363.20) scale(1.06,1.35) translate(-94.15,-363.20)"/>
<path d="M80.50,363.20 C81.05,360.93 83.23,359.70 88.69,359.70 L99.61,359.70 C105.07,359.70 107.25,360.93 107.80,363.20 C107.25,365.47 105.07,366.70 99.61,366.70 L88.69,366.70 C83.23,366.70 81.05,365.47 80.50,363.20 Z" fill="#050505" opacity="1.0" filter="url(#blur2)"/>
<circle cx="47.3" cy="302" r="0.9" fill="#222" filter="url(#blur05)"/>
<circle cx="59.6" cy="288.8" r="0.6" fill="#222" filter="url(#blur05)"/>
<circle cx="72" cy="326" r="0.7" fill="#222" filter="url(#blur05)"/>
<circle cx="111.3" cy="316.3" r="0.8" fill="#222" filter="url(#blur05)"/>
<circle cx="90" cy="342.4" r="0.7" fill="#222" filter="url(#blur05)"/>
<circle cx="110.4" cy="354.4" r="0.8" fill="#222" filter="url(#blur05)"/>
<circle cx="17" cy="293" r="0.4" fill="#222" filter="url(#blur05)"/>
<circle cx="63" cy="320" r="0.4" fill="#222" filter="url(#blur05)"/>
<rect x="107.5" y="303.0" width="5" height="1.8" fill="#222" stroke="none" stroke-width="1" />
<text x="120.5" y="270.5" font-size="9.6" font-weight="bold" text-anchor="start" fill="#000" stroke="#000" stroke-width="0.38" stroke-linejoin="round" >Bcl-xL</text>
<text x="121.4" y="315.8" font-size="9.6" font-weight="bold" text-anchor="start" fill="#000" stroke="#000" stroke-width="0.38" stroke-linejoin="round" >Bax</text>
<text x="119.9" y="368.3" font-size="9.6" font-weight="bold" text-anchor="start" fill="#000" stroke="#000" stroke-width="0.38" stroke-linejoin="round" >GAPDH</text>
<text x="168.4" y="216.9" font-size="10.6" font-weight="bold" text-anchor="start" fill="#000" stroke="#000" stroke-width="0.38" stroke-linejoin="round" >D</text>
<text x="235.0" y="235.6" font-size="10.8" font-weight="bold" text-anchor="start" fill="#000" stroke="#000" stroke-width="0.38" stroke-linejoin="round" >Anti-P-selectin</text>
<line x1="201.5" y1="249.0" x2="201.5" y2="367.3" stroke="#777" stroke-width="0.8" />
<line x1="199.7" y1="367.3" x2="201.5" y2="367.3" stroke="#777" stroke-width="0.6" />
<line x1="199.7" y1="347.8" x2="201.5" y2="347.8" stroke="#777" stroke-width="0.6" />
<line x1="199.7" y1="328.3" x2="201.5" y2="328.3" stroke="#777" stroke-width="0.6" />
<line x1="199.7" y1="308.8" x2="201.5" y2="308.8" stroke="#777" stroke-width="0.6" />
<line x1="199.7" y1="289.3" x2="201.5" y2="289.3" stroke="#777" stroke-width="0.6" />
<line x1="199.7" y1="269.8" x2="201.5" y2="269.8" stroke="#777" stroke-width="0.6" />
<line x1="199.7" y1="250.3" x2="201.5" y2="250.3" stroke="#777" stroke-width="0.6" />
<text transform="translate(198.2,369.35) scale(0.6,1)" font-size="5.7" font-weight="bold" text-anchor="end" fill="#3a3a3a">0</text>
<text transform="translate(198.2,349.85) scale(0.6,1)" font-size="5.7" font-weight="bold" text-anchor="end" fill="#3a3a3a">20</text>
<text transform="translate(198.2,330.35) scale(0.6,1)" font-size="5.7" font-weight="bold" text-anchor="end" fill="#3a3a3a">40</text>
<text transform="translate(198.2,310.85) scale(0.6,1)" font-size="5.7" font-weight="bold" text-anchor="end" fill="#3a3a3a">60</text>
<text transform="translate(198.2,291.35) scale(0.6,1)" font-size="5.7" font-weight="bold" text-anchor="end" fill="#3a3a3a">80</text>
<text transform="translate(198.2,271.85) scale(0.6,1)" font-size="5.7" font-weight="bold" text-anchor="end" fill="#3a3a3a">100</text>
<text transform="translate(198.2,252.35) scale(0.6,1)" font-size="5.7" font-weight="bold" text-anchor="end" fill="#3a3a3a">120</text>
<line x1="201.5" y1="367.0" x2="352.0" y2="367.0" stroke="#777" stroke-width="0.8" />
<line x1="252.6" y1="367" x2="252.6" y2="369.5" stroke="#777" stroke-width="0.6" />
<line x1="303.8" y1="367" x2="303.8" y2="369.5" stroke="#777" stroke-width="0.6" />
<line x1="215.2" y1="339.3" x2="215.2" y2="344.5" stroke="#8a8a8a" stroke-width="0.7" />
<line x1="214.2" y1="339.3" x2="216.2" y2="339.3" stroke="#8a8a8a" stroke-width="0.7" />
<line x1="226.85" y1="335.0" x2="226.85" y2="338.4" stroke="#8a8a8a" stroke-width="0.7" />
<line x1="225.85" y1="335.0" x2="227.85" y2="335.0" stroke="#8a8a8a" stroke-width="0.7" />
<line x1="238.35" y1="358.3" x2="238.35" y2="360.6" stroke="#666" stroke-width="0.7" />
<line x1="237.35" y1="358.3" x2="239.35" y2="358.3" stroke="#666" stroke-width="0.7" />
<rect x="209.75" y="344.85" width="10.9" height="22.15" fill="#ffffff" stroke="#9a9a9a" stroke-width="0.7" />
<rect x="221.35" y="338.75" width="11.0" height="28.25" fill="#b9b9b9" stroke="#8a8a8a" stroke-width="0.7" />
<rect x="232.7" y="360.6" width="11.3" height="6.4" fill="#000000" stroke="none" stroke-width="1" />
<line x1="266.35" y1="290.9" x2="266.35" y2="300.0" stroke="#8a8a8a" stroke-width="0.7" />
<line x1="265.35" y1="290.9" x2="267.35" y2="290.9" stroke="#8a8a8a" stroke-width="0.7" />
<line x1="278.0" y1="286.4" x2="278.0" y2="288.1" stroke="#8a8a8a" stroke-width="0.7" />
<line x1="277.0" y1="286.4" x2="279.0" y2="286.4" stroke="#8a8a8a" stroke-width="0.7" />
<line x1="289.6" y1="337.8" x2="289.6" y2="345.7" stroke="#666" stroke-width="0.7" />
<line x1="288.6" y1="337.8" x2="290.6" y2="337.8" stroke="#666" stroke-width="0.7" />
<rect x="260.85" y="300.35" width="11.0" height="66.65" fill="#ffffff" stroke="#9a9a9a" stroke-width="0.7" />
<rect x="272.55" y="288.45" width="10.9" height="78.55" fill="#b9b9b9" stroke="#8a8a8a" stroke-width="0.7" />
<rect x="283.8" y="345.7" width="11.6" height="21.3" fill="#000000" stroke="none" stroke-width="1" />
<line x1="317.75" y1="262.0" x2="317.75" y2="269.2" stroke="#8a8a8a" stroke-width="0.7" />
<line x1="316.75" y1="262.0" x2="318.75" y2="262.0" stroke="#8a8a8a" stroke-width="0.7" />
<line x1="329.1" y1="262.8" x2="329.1" y2="266.1" stroke="#8a8a8a" stroke-width="0.7" />
<line x1="328.1" y1="262.8" x2="330.1" y2="262.8" stroke="#8a8a8a" stroke-width="0.7" />
<line x1="340.6" y1="304.3" x2="340.6" y2="311.5" stroke="#666" stroke-width="0.7" />
<line x1="339.6" y1="304.3" x2="341.6" y2="304.3" stroke="#666" stroke-width="0.7" />
<rect x="312.45" y="269.55" width="10.6" height="97.45" fill="#ffffff" stroke="#9a9a9a" stroke-width="0.7" />
<rect x="323.75" y="266.45" width="10.7" height="100.55" fill="#b9b9b9" stroke="#8a8a8a" stroke-width="0.7" />
<rect x="334.8" y="311.5" width="11.6" height="55.5" fill="#000000" stroke="none" stroke-width="1" />
<path d="M277.3,281.6 L277.3,278.70000000000005 Q277.3,277.1 278.90000000000003,277.1 L282.3,277.1 Q283.1,277.1 283.1,272.4 Q283.1,277.1 283.90000000000003,277.1 L287.29999999999995,277.1 Q288.9,277.1 288.9,278.70000000000005 L288.9,281.6" fill="none" stroke="#000" stroke-width="0.9"/>
<path d="M282.80,267.70L282.80,265.27M282.80,267.70L285.11,266.95M282.80,267.70L284.23,269.67M282.80,267.70L281.37,269.67M282.80,267.70L280.49,266.95" stroke="#000" stroke-width="1.45" stroke-linecap="round" fill="none"/>
<path d="M328.6,261.0 L328.6,257.90000000000003 Q328.6,256.3 330.20000000000005,256.3 L333.59999999999997,256.3 Q334.4,256.3 334.4,251.6 Q334.4,256.3 335.2,256.3 L338.59999999999997,256.3 Q340.2,256.3 340.2,257.90000000000003 L340.2,261.0" fill="none" stroke="#000" stroke-width="0.9"/>
<path d="M334.40,246.30L334.40,243.87M334.40,246.30L336.71,245.55M334.40,246.30L335.83,248.27M334.40,246.30L332.97,248.27M334.40,246.30L332.09,245.55" stroke="#000" stroke-width="1.45" stroke-linecap="round" fill="none"/>
<rect x="211.8" y="248.0" width="52.80000000000001" height="33.19999999999999" fill="#fff" stroke="#333" stroke-width="1.0" />
<rect x="214.5" y="251.4" width="6.599999999999994" height="5.400000000000006" fill="#fff" stroke="#444" stroke-width="1.0" />
<text x="226.0" y="257.2" font-size="8.6" font-weight="normal" text-anchor="start" fill="#111" stroke="#111" stroke-width="0.3" stroke-linejoin="round" >wt, n=3</text>
<rect x="214.5" y="261.6" width="6.599999999999994" height="5.399999999999977" fill="#b5b5b5" stroke="#555" stroke-width="1.0" />
<text x="226.0" y="267.4" font-size="8.6" font-weight="normal" text-anchor="start" fill="#111" stroke="#111" stroke-width="0.3" stroke-linejoin="round" >het, n=3</text>
<rect x="214.5" y="271.9" width="6.599999999999994" height="5.400000000000034" fill="#000" stroke="#000" stroke-width="1.0" />
<text x="226.0" y="277.7" font-size="8.6" font-weight="normal" text-anchor="start" fill="#111" stroke="#111" stroke-width="0.3" stroke-linejoin="round" >hom, n=3</text>
<text transform="translate(226.3,378.2) scale(0.85,1)" font-size="6.8" text-anchor="middle" fill="#222">0.1</text>
<text transform="translate(278.5,378.2) scale(0.85,1)" font-size="6.8" text-anchor="middle" fill="#222">0.3</text>
<text transform="translate(328.8,378.2) scale(0.85,1)" font-size="6.8" text-anchor="middle" fill="#222">1.0</text>
<text x="278.4" y="390.8" font-size="8.6" font-weight="normal" text-anchor="middle" fill="#111" stroke="#111" stroke-width="0.3" stroke-linejoin="round" >CRP (&#181;g/mL)</text>
<text transform="translate(176.4,305.0) rotate(-90)" font-size="10.95" font-weight="bold" text-anchor="middle" fill="#000" stroke="#000" stroke-width="0.38" stroke-linejoin="round" >% of maximum response</text>
<text transform="translate(188.6,302.0) rotate(-90)" font-size="10.7" font-weight="bold" text-anchor="middle" fill="#000" stroke="#000" stroke-width="0.38" stroke-linejoin="round" >in WT controls</text>
<text x="354.4" y="216.8" font-size="10.6" font-weight="bold" text-anchor="start" fill="#000" stroke="#000" stroke-width="0.38" stroke-linejoin="round" >E</text>
<text x="392.0" y="235.6" font-size="10.8" font-weight="bold" text-anchor="start" fill="#000" stroke="#000" stroke-width="0.38" stroke-linejoin="round" >Anti-Fibrinogen</text>
<line x1="365.9" y1="250.0" x2="365.9" y2="367.0" stroke="#777" stroke-width="0.8" />
<line x1="364.09999999999997" y1="367.0" x2="365.9" y2="367.0" stroke="#777" stroke-width="0.6" />
<line x1="364.09999999999997" y1="350.3" x2="365.9" y2="350.3" stroke="#777" stroke-width="0.6" />
<line x1="364.09999999999997" y1="333.6" x2="365.9" y2="333.6" stroke="#777" stroke-width="0.6" />
<line x1="364.09999999999997" y1="316.9" x2="365.9" y2="316.9" stroke="#777" stroke-width="0.6" />
<line x1="364.09999999999997" y1="300.2" x2="365.9" y2="300.2" stroke="#777" stroke-width="0.6" />
<line x1="364.09999999999997" y1="283.5" x2="365.9" y2="283.5" stroke="#777" stroke-width="0.6" />
<line x1="364.09999999999997" y1="266.8" x2="365.9" y2="266.8" stroke="#777" stroke-width="0.6" />
<line x1="364.09999999999997" y1="250.10000000000002" x2="365.9" y2="250.10000000000002" stroke="#777" stroke-width="0.6" />
<text transform="translate(362.8,369.05) scale(0.6,1)" font-size="5.7" font-weight="bold" text-anchor="end" fill="#3a3a3a">0</text>
<text transform="translate(362.8,352.35) scale(0.6,1)" font-size="5.7" font-weight="bold" text-anchor="end" fill="#3a3a3a">20</text>
<text transform="translate(362.8,335.65) scale(0.6,1)" font-size="5.7" font-weight="bold" text-anchor="end" fill="#3a3a3a">40</text>
<text transform="translate(362.8,318.95) scale(0.6,1)" font-size="5.7" font-weight="bold" text-anchor="end" fill="#3a3a3a">60</text>
<text transform="translate(362.8,302.25) scale(0.6,1)" font-size="5.7" font-weight="bold" text-anchor="end" fill="#3a3a3a">80</text>
<text transform="translate(362.8,285.55) scale(0.6,1)" font-size="5.7" font-weight="bold" text-anchor="end" fill="#3a3a3a">100</text>
<text transform="translate(362.8,268.85) scale(0.6,1)" font-size="5.7" font-weight="bold" text-anchor="end" fill="#3a3a3a">120</text>
<text transform="translate(362.8,252.15) scale(0.6,1)" font-size="5.7" font-weight="bold" text-anchor="end" fill="#3a3a3a">140</text>
<line x1="365.9" y1="367.0" x2="518.0" y2="367.0" stroke="#777" stroke-width="0.8" />
<line x1="416.2" y1="367" x2="416.2" y2="369.5" stroke="#777" stroke-width="0.6" />
<line x1="467.7" y1="367" x2="467.7" y2="369.5" stroke="#777" stroke-width="0.6" />
<line x1="380.15" y1="328.2" x2="380.15" y2="335.8" stroke="#8a8a8a" stroke-width="0.7" />
<line x1="379.15" y1="328.2" x2="381.15" y2="328.2" stroke="#8a8a8a" stroke-width="0.7" />
<line x1="392.1" y1="313.8" x2="392.1" y2="319.3" stroke="#8a8a8a" stroke-width="0.7" />
<line x1="391.1" y1="313.8" x2="393.1" y2="313.8" stroke="#8a8a8a" stroke-width="0.7" />
<line x1="403.1" y1="342.0" x2="403.1" y2="344.4" stroke="#666" stroke-width="0.7" />
<line x1="402.1" y1="342.0" x2="404.1" y2="342.0" stroke="#666" stroke-width="0.7" />
<rect x="374.35" y="336.15" width="11.6" height="30.85" fill="#ffffff" stroke="#9a9a9a" stroke-width="0.7" />
<rect x="386.65" y="319.65" width="10.9" height="47.35" fill="#b9b9b9" stroke="#8a8a8a" stroke-width="0.7" />
<rect x="397.9" y="344.4" width="10.4" height="22.6" fill="#000000" stroke="none" stroke-width="1" />
<line x1="431.1" y1="282.2" x2="431.1" y2="294.2" stroke="#8a8a8a" stroke-width="0.7" />
<line x1="430.1" y1="282.2" x2="432.1" y2="282.2" stroke="#8a8a8a" stroke-width="0.7" />
<line x1="442.65" y1="276.0" x2="442.65" y2="286.0" stroke="#8a8a8a" stroke-width="0.7" />
<line x1="441.65" y1="276.0" x2="443.65" y2="276.0" stroke="#8a8a8a" stroke-width="0.7" />
<line x1="454.1" y1="318.3" x2="454.1" y2="324.5" stroke="#666" stroke-width="0.7" />
<line x1="453.1" y1="318.3" x2="455.1" y2="318.3" stroke="#666" stroke-width="0.7" />
<rect x="425.75" y="294.55" width="10.7" height="72.45" fill="#ffffff" stroke="#9a9a9a" stroke-width="0.7" />
<rect x="437.15" y="286.35" width="11.0" height="80.65" fill="#b9b9b9" stroke="#8a8a8a" stroke-width="0.7" />
<rect x="448.5" y="324.5" width="11.2" height="42.5" fill="#000000" stroke="none" stroke-width="1" />
<line x1="481.75" y1="263.6" x2="481.75" y2="283.0" stroke="#8a8a8a" stroke-width="0.7" />
<line x1="480.75" y1="263.6" x2="482.75" y2="263.6" stroke="#8a8a8a" stroke-width="0.7" />
<line x1="493.55" y1="256.0" x2="493.55" y2="267.3" stroke="#8a8a8a" stroke-width="0.7" />
<line x1="492.55" y1="256.0" x2="494.55" y2="256.0" stroke="#8a8a8a" stroke-width="0.7" />
<line x1="505.1" y1="287.7" x2="505.1" y2="298.9" stroke="#666" stroke-width="0.7" />
<line x1="504.1" y1="287.7" x2="506.1" y2="287.7" stroke="#666" stroke-width="0.7" />
<rect x="476.25" y="283.35" width="11.0" height="83.65" fill="#ffffff" stroke="#9a9a9a" stroke-width="0.7" />
<rect x="487.95" y="267.65" width="11.2" height="99.35" fill="#b9b9b9" stroke="#8a8a8a" stroke-width="0.7" />
<rect x="499.5" y="298.9" width="11.2" height="68.1" fill="#000000" stroke="none" stroke-width="1" />
<path d="M390.2,309.0 L390.2,306.6 Q390.2,305.0 391.8,305.0 L395.8,305.0 Q396.6,305.0 396.6,300.6 Q396.6,305.0 397.40000000000003,305.0 L401.4,305.0 Q403.0,305.0 403.0,306.6 L403.0,309.0" fill="none" stroke="#000" stroke-width="0.9"/>
<path d="M396.60,292.40L396.60,289.97M396.60,292.40L398.91,291.65M396.60,292.40L398.03,294.37M396.60,292.40L395.17,294.37M396.60,292.40L394.29,291.65" stroke="#000" stroke-width="1.45" stroke-linecap="round" fill="none"/>
<path d="M441.8,271.4 L441.8,268.40000000000003 Q441.8,266.8 443.40000000000003,266.8 L446.84999999999997,266.8 Q447.65,266.8 447.65,262.2 Q447.65,266.8 448.45,266.8 L451.9,266.8 Q453.5,266.8 453.5,268.40000000000003 L453.5,271.4" fill="none" stroke="#000" stroke-width="0.9"/>
<path d="M448.50,253.90L448.50,251.47M448.50,253.90L450.81,253.15M448.50,253.90L449.93,255.87M448.50,253.90L447.07,255.87M448.50,253.90L446.19,253.15" stroke="#000" stroke-width="1.45" stroke-linecap="round" fill="none"/>
<path d="M493.3,257.4 L493.3,254.5 Q493.3,252.9 494.90000000000003,252.9 L498.09999999999997,252.9 Q498.9,252.9 498.9,248.4 Q498.9,252.9 499.7,252.9 L502.9,252.9 Q504.5,252.9 504.5,254.5 L504.5,257.4" fill="none" stroke="#000" stroke-width="0.9"/>
<path d="M499.50,240.40L499.50,237.97M499.50,240.40L501.81,239.65M499.50,240.40L500.93,242.37M499.50,240.40L498.07,242.37M499.50,240.40L497.19,239.65" stroke="#000" stroke-width="1.45" stroke-linecap="round" fill="none"/>
<rect x="369.9" y="247.0" width="52.30000000000001" height="33.10000000000002" fill="#fff" stroke="#333" stroke-width="1.0" />
<rect x="372.9" y="249.3" width="6.400000000000034" height="4.799999999999983" fill="#fff" stroke="#444" stroke-width="1.0" />
<text x="383.3" y="254.8" font-size="8.6" font-weight="normal" text-anchor="start" fill="#111" stroke="#111" stroke-width="0.3" stroke-linejoin="round" >wt, n=3</text>
<rect x="372.9" y="260.2" width="6.400000000000034" height="4.800000000000011" fill="#b5b5b5" stroke="#555" stroke-width="1.0" />
<text x="383.3" y="265.7" font-size="8.6" font-weight="normal" text-anchor="start" fill="#111" stroke="#111" stroke-width="0.3" stroke-linejoin="round" >het, n=3</text>
<rect x="372.9" y="270.2" width="6.400000000000034" height="5.300000000000011" fill="#000" stroke="#000" stroke-width="1.0" />
<text x="383.3" y="275.95" font-size="8.6" font-weight="normal" text-anchor="start" fill="#111" stroke="#111" stroke-width="0.3" stroke-linejoin="round" >hom, n=3</text>
<text transform="translate(391.6,378.2) scale(0.85,1)" font-size="6.8" text-anchor="middle" fill="#222">0.1</text>
<text transform="translate(443.4,378.2) scale(0.85,1)" font-size="6.8" text-anchor="middle" fill="#222">0.3</text>
<text transform="translate(493.8,378.2) scale(0.85,1)" font-size="6.8" text-anchor="middle" fill="#222">1.0</text>
<text x="443.4" y="391.0" font-size="8.6" font-weight="normal" text-anchor="middle" fill="#111" stroke="#111" stroke-width="0.3" stroke-linejoin="round" >CRP (&#181;g/mL)</text>
<text x="0.6" y="413.2" font-size="10.6" font-weight="bold" text-anchor="start" fill="#000" stroke="#000" stroke-width="0.38" stroke-linejoin="round" >F</text>
<line x1="26.5" y1="566.3" x2="143.8" y2="566.3" stroke="#d4d4d4" stroke-width="1.5" />
<line x1="26.5" y1="551.58" x2="143.8" y2="551.58" stroke="#d4d4d4" stroke-width="1.5" />
<line x1="26.5" y1="536.86" x2="143.8" y2="536.86" stroke="#d4d4d4" stroke-width="1.5" />
<line x1="26.5" y1="522.14" x2="143.8" y2="522.14" stroke="#d4d4d4" stroke-width="1.5" />
<line x1="26.5" y1="507.42" x2="143.8" y2="507.42" stroke="#d4d4d4" stroke-width="1.5" />
<line x1="26.5" y1="492.7" x2="143.8" y2="492.7" stroke="#d4d4d4" stroke-width="1.5" />
<line x1="26.5" y1="477.98" x2="143.8" y2="477.98" stroke="#d4d4d4" stroke-width="1.5" />
<line x1="26.5" y1="463.26" x2="143.8" y2="463.26" stroke="#d4d4d4" stroke-width="1.5" />
<line x1="26.5" y1="448.54" x2="143.8" y2="448.54" stroke="#d4d4d4" stroke-width="1.5" />
<line x1="26.5" y1="433.82" x2="143.8" y2="433.82" stroke="#d4d4d4" stroke-width="1.5" />
<line x1="26.5" y1="433.6" x2="26.5" y2="566.3" stroke="#aaa" stroke-width="0.8" />
<line x1="24.7" y1="566.3" x2="26.5" y2="566.3" stroke="#aaa" stroke-width="0.6" />
<text transform="translate(23.2,568.20) scale(0.6,1)" font-size="5.4" text-anchor="end" fill="#4a4a4a">0</text>
<line x1="24.7" y1="551.5799999999999" x2="26.5" y2="551.5799999999999" stroke="#aaa" stroke-width="0.6" />
<text transform="translate(23.2,553.48) scale(0.6,1)" font-size="5.4" text-anchor="end" fill="#4a4a4a">0.5</text>
<line x1="24.7" y1="536.8599999999999" x2="26.5" y2="536.8599999999999" stroke="#aaa" stroke-width="0.6" />
<text transform="translate(23.2,538.76) scale(0.6,1)" font-size="5.4" text-anchor="end" fill="#4a4a4a">1</text>
<line x1="24.7" y1="522.14" x2="26.5" y2="522.14" stroke="#aaa" stroke-width="0.6" />
<text transform="translate(23.2,524.04) scale(0.6,1)" font-size="5.4" text-anchor="end" fill="#4a4a4a">1.5</text>
<line x1="24.7" y1="507.41999999999996" x2="26.5" y2="507.41999999999996" stroke="#aaa" stroke-width="0.6" />
<text transform="translate(23.2,509.32) scale(0.6,1)" font-size="5.4" text-anchor="end" fill="#4a4a4a">2</text>
<line x1="24.7" y1="492.69999999999993" x2="26.5" y2="492.69999999999993" stroke="#aaa" stroke-width="0.6" />
<text transform="translate(23.2,494.60) scale(0.6,1)" font-size="5.4" text-anchor="end" fill="#4a4a4a">2.5</text>
<line x1="24.7" y1="477.97999999999996" x2="26.5" y2="477.97999999999996" stroke="#aaa" stroke-width="0.6" />
<text transform="translate(23.2,479.88) scale(0.6,1)" font-size="5.4" text-anchor="end" fill="#4a4a4a">3</text>
<line x1="24.7" y1="463.25999999999993" x2="26.5" y2="463.25999999999993" stroke="#aaa" stroke-width="0.6" />
<text transform="translate(23.2,465.16) scale(0.6,1)" font-size="5.4" text-anchor="end" fill="#4a4a4a">3.5</text>
<line x1="24.7" y1="448.53999999999996" x2="26.5" y2="448.53999999999996" stroke="#aaa" stroke-width="0.6" />
<text transform="translate(23.2,450.44) scale(0.6,1)" font-size="5.4" text-anchor="end" fill="#4a4a4a">4</text>
<line x1="24.7" y1="433.81999999999994" x2="26.5" y2="433.81999999999994" stroke="#aaa" stroke-width="0.6" />
<text transform="translate(23.2,435.72) scale(0.6,1)" font-size="5.4" text-anchor="end" fill="#4a4a4a">4.5</text>
<rect x="36.65" y="522.35" width="12.3" height="43.95" fill="#ffffff" stroke="#9a9a9a" stroke-width="0.7" />
<rect x="49.65" y="480.45" width="12.3" height="85.85" fill="#b9b9b9" stroke="#8a8a8a" stroke-width="0.7" />
<rect x="62.3" y="453.6" width="12.9" height="112.7" fill="#000000" stroke="none" stroke-width="1" />
<line x1="42.8" y1="516.5" x2="42.8" y2="529.0" stroke="#777" stroke-width="0.7" />
<line x1="41.599999999999994" y1="516.5" x2="44.0" y2="516.5" stroke="#777" stroke-width="0.7" />
<line x1="41.599999999999994" y1="529.0" x2="44.0" y2="529.0" stroke="#777" stroke-width="0.7" />
<line x1="55.8" y1="473.0" x2="55.8" y2="487.0" stroke="#777" stroke-width="0.7" />
<line x1="54.599999999999994" y1="473.0" x2="57.0" y2="473.0" stroke="#777" stroke-width="0.7" />
<line x1="54.599999999999994" y1="487.0" x2="57.0" y2="487.0" stroke="#777" stroke-width="0.7" />
<line x1="68.75" y1="441.0" x2="68.75" y2="453.6" stroke="#777" stroke-width="0.7" />
<line x1="67.75" y1="441.0" x2="69.75" y2="441.0" stroke="#777" stroke-width="0.7" />
<rect x="94.85" y="556.35" width="12.3" height="9.95" fill="#ffffff" stroke="#9a9a9a" stroke-width="0.7" />
<rect x="107.85" y="548.65" width="12.3" height="17.65" fill="#b9b9b9" stroke="#8a8a8a" stroke-width="0.7" />
<rect x="120.5" y="540.5" width="13.2" height="25.8" fill="#000000" stroke="none" stroke-width="1" />
<line x1="101.0" y1="552.5" x2="101.0" y2="560.0" stroke="#777" stroke-width="0.7" />
<line x1="99.8" y1="552.5" x2="102.2" y2="552.5" stroke="#777" stroke-width="0.7" />
<line x1="99.8" y1="560.0" x2="102.2" y2="560.0" stroke="#777" stroke-width="0.7" />
<line x1="114.0" y1="545.7" x2="114.0" y2="551.2" stroke="#777" stroke-width="0.7" />
<line x1="112.8" y1="545.7" x2="115.2" y2="545.7" stroke="#777" stroke-width="0.7" />
<line x1="112.8" y1="551.2" x2="115.2" y2="551.2" stroke="#777" stroke-width="0.7" />
<line x1="127.1" y1="538.0" x2="127.1" y2="540.5" stroke="#777" stroke-width="0.7" />
<line x1="126.1" y1="538.0" x2="128.1" y2="538.0" stroke="#777" stroke-width="0.7" />
<path d="M42.0,425.2 L42.0,423.79999999999995 Q42.0,422.4 43.400000000000006,422.4 L54.550000000000004,422.4 Q55.35,422.4 55.35,420.1 Q55.35,422.4 56.15,422.4 L67.3,422.4 Q68.7,422.4 68.7,423.79999999999995 L68.7,425.2" fill="none" stroke="#000" stroke-width="0.9"/>
<path d="M53.60,416.30L53.60,413.96M53.60,416.30L55.83,415.58M53.60,416.30L54.98,418.19M53.60,416.30L52.22,418.19M53.60,416.30L51.37,415.58" stroke="#000" stroke-width="1.4" stroke-linecap="round" fill="none"/>
<path d="M59.20,416.30L59.20,413.96M59.20,416.30L61.43,415.58M59.20,416.30L60.58,418.19M59.20,416.30L57.82,418.19M59.20,416.30L56.97,415.58" stroke="#000" stroke-width="1.4" stroke-linecap="round" fill="none"/>
<path d="M53.3,438.6 L53.3,437.3 Q53.3,436.0 54.60000000000001,436.0 L60.2,436.0 Q61.0,436.0 61.0,434.0 Q61.0,436.0 61.8,436.0 L67.39999999999999,436.0 Q68.7,436.0 68.7,437.3 L68.7,438.6" fill="none" stroke="#000" stroke-width="0.9"/>
<path d="M57.90,430.50L57.90,428.16M57.90,430.50L60.13,429.78M57.90,430.50L59.28,432.39M57.90,430.50L56.52,432.39M57.90,430.50L55.67,429.78" stroke="#000" stroke-width="1.4" stroke-linecap="round" fill="none"/>
<path d="M63.80,430.50L63.80,428.16M63.80,430.50L66.03,429.78M63.80,430.50L65.18,432.39M63.80,430.50L62.42,432.39M63.80,430.50L61.57,429.78" stroke="#000" stroke-width="1.4" stroke-linecap="round" fill="none"/>
<path d="M100.0,534.5 L100.0,532.8000000000001 Q100.0,531.2 101.6,531.2 L112.7,531.2 Q113.5,531.2 113.5,528.0 Q113.5,531.2 114.3,531.2 L125.4,531.2 Q127.0,531.2 127.0,532.8000000000001 L127.0,534.5" fill="none" stroke="#000" stroke-width="0.9"/>
<path d="M110.60,525.00L110.60,522.66M110.60,525.00L112.83,524.28M110.60,525.00L111.98,526.89M110.60,525.00L109.22,526.89M110.60,525.00L108.37,524.28" stroke="#000" stroke-width="1.4" stroke-linecap="round" fill="none"/>
<path d="M117.40,525.00L117.40,522.66M117.40,525.00L119.63,524.28M117.40,525.00L118.78,526.89M117.40,525.00L116.02,526.89M117.40,525.00L115.17,524.28" stroke="#000" stroke-width="1.4" stroke-linecap="round" fill="none"/>
<rect x="93.6" y="455.0" width="52.5" height="34.0" fill="#fff" stroke="#333" stroke-width="1.0" />
<rect x="96.4" y="459.3" width="7.099999999999994" height="5.099999999999966" fill="#fff" stroke="#444" stroke-width="1.0" />
<text x="108.0" y="464.95" font-size="8.6" font-weight="normal" text-anchor="start" fill="#111" stroke="#111" stroke-width="0.3" stroke-linejoin="round" >wt, n=3</text>
<rect x="96.4" y="469.8" width="7.099999999999994" height="5.399999999999977" fill="#b5b5b5" stroke="#555" stroke-width="1.0" />
<text x="108.0" y="475.6" font-size="8.6" font-weight="normal" text-anchor="start" fill="#111" stroke="#111" stroke-width="0.3" stroke-linejoin="round" >het, n=3</text>
<rect x="96.4" y="479.9" width="7.099999999999994" height="5.100000000000023" fill="#000" stroke="#000" stroke-width="1.0" />
<text x="108.0" y="485.55" font-size="8.6" font-weight="normal" text-anchor="start" fill="#111" stroke="#111" stroke-width="0.3" stroke-linejoin="round" >hom, n=3</text>
<text x="55.75" y="579.8" font-size="10.0" font-weight="bold" text-anchor="middle" fill="#000" stroke="#000" stroke-width="0.38" stroke-linejoin="round" >BM</text>
<text x="116.0" y="580.4" font-size="10.0" font-weight="bold" text-anchor="middle" fill="#000" stroke="#000" stroke-width="0.38" stroke-linejoin="round" >Spleen</text>
<text transform="translate(10.0,500.8) rotate(-90)" font-size="9.8" font-weight="bold" text-anchor="middle" fill="#000" stroke="#000" stroke-width="0.38" stroke-linejoin="round" >Mean megakaryocytes per hpf</text>
<text x="181.6" y="413.3" font-size="10.6" font-weight="bold" text-anchor="start" fill="#000" stroke="#000" stroke-width="0.38" stroke-linejoin="round" >G</text>
<line x1="210.5" y1="449.34999999999997" x2="210.5" y2="566.8" stroke="#777" stroke-width="0.8" />
<line x1="208.7" y1="566.8" x2="210.5" y2="566.8" stroke="#777" stroke-width="0.6" />
<line x1="208.7" y1="553.75" x2="210.5" y2="553.75" stroke="#777" stroke-width="0.6" />
<line x1="208.7" y1="540.6999999999999" x2="210.5" y2="540.6999999999999" stroke="#777" stroke-width="0.6" />
<line x1="208.7" y1="527.65" x2="210.5" y2="527.65" stroke="#777" stroke-width="0.6" />
<line x1="208.7" y1="514.5999999999999" x2="210.5" y2="514.5999999999999" stroke="#777" stroke-width="0.6" />
<line x1="208.7" y1="501.54999999999995" x2="210.5" y2="501.54999999999995" stroke="#777" stroke-width="0.6" />
<line x1="208.7" y1="488.49999999999994" x2="210.5" y2="488.49999999999994" stroke="#777" stroke-width="0.6" />
<line x1="208.7" y1="475.44999999999993" x2="210.5" y2="475.44999999999993" stroke="#777" stroke-width="0.6" />
<line x1="208.7" y1="462.4" x2="210.5" y2="462.4" stroke="#777" stroke-width="0.6" />
<line x1="208.7" y1="449.34999999999997" x2="210.5" y2="449.34999999999997" stroke="#777" stroke-width="0.6" />
<text transform="translate(206.2,568.74) scale(0.85,1)" font-size="5.4" font-weight="bold" text-anchor="end" fill="#3a3a3a">0</text>
<text transform="translate(206.2,555.69) scale(0.85,1)" font-size="5.4" font-weight="bold" text-anchor="end" fill="#3a3a3a">5</text>
<text transform="translate(206.2,542.64) scale(0.85,1)" font-size="5.4" font-weight="bold" text-anchor="end" fill="#3a3a3a">10</text>
<text transform="translate(206.2,529.59) scale(0.85,1)" font-size="5.4" font-weight="bold" text-anchor="end" fill="#3a3a3a">15</text>
<text transform="translate(206.2,516.54) scale(0.85,1)" font-size="5.4" font-weight="bold" text-anchor="end" fill="#3a3a3a">20</text>
<text transform="translate(206.2,503.49) scale(0.85,1)" font-size="5.4" font-weight="bold" text-anchor="end" fill="#3a3a3a">25</text>
<text transform="translate(206.2,490.44) scale(0.85,1)" font-size="5.4" font-weight="bold" text-anchor="end" fill="#3a3a3a">30</text>
<text transform="translate(206.2,477.39) scale(0.85,1)" font-size="5.4" font-weight="bold" text-anchor="end" fill="#3a3a3a">35</text>
<text transform="translate(206.2,464.34) scale(0.85,1)" font-size="5.4" font-weight="bold" text-anchor="end" fill="#3a3a3a">40</text>
<text transform="translate(206.2,451.29) scale(0.85,1)" font-size="5.4" font-weight="bold" text-anchor="end" fill="#3a3a3a">45</text>
<line x1="210.5" y1="566.8" x2="338.8" y2="566.8" stroke="#777" stroke-width="0.8" />
<line x1="274.0" y1="566.8" x2="274.0" y2="569.0" stroke="#777" stroke-width="0.6" />
<line x1="227.8" y1="509.6" x2="227.8" y2="515.3" stroke="#888" stroke-width="0.7" />
<line x1="226.8" y1="509.6" x2="228.8" y2="509.6" stroke="#888" stroke-width="0.7" />
<line x1="242.35" y1="496.3" x2="242.35" y2="499.0" stroke="#888" stroke-width="0.7" />
<line x1="241.35" y1="496.3" x2="243.35" y2="496.3" stroke="#888" stroke-width="0.7" />
<line x1="256.79999999999995" y1="466.8" x2="256.79999999999995" y2="474.1" stroke="#666" stroke-width="0.7" />
<line x1="255.79999999999995" y1="466.8" x2="257.79999999999995" y2="466.8" stroke="#666" stroke-width="0.7" />
<rect x="220.95" y="515.65" width="13.7" height="51.15" fill="#ffffff" stroke="#9a9a9a" stroke-width="0.7" />
<rect x="235.35" y="499.35" width="14.0" height="67.45" fill="#b9b9b9" stroke="#8a8a8a" stroke-width="0.7" />
<rect x="249.7" y="474.1" width="14.2" height="92.7" fill="#000000" stroke="none" stroke-width="1" />
<line x1="292.45" y1="548.0" x2="292.45" y2="551.4" stroke="#888" stroke-width="0.7" />
<line x1="291.45" y1="548.0" x2="293.45" y2="548.0" stroke="#888" stroke-width="0.7" />
<line x1="306.95" y1="529.0" x2="306.95" y2="536.0" stroke="#888" stroke-width="0.7" />
<line x1="305.95" y1="529.0" x2="307.95" y2="529.0" stroke="#888" stroke-width="0.7" />
<line x1="321.35" y1="501.6" x2="321.35" y2="507.5" stroke="#666" stroke-width="0.7" />
<line x1="320.35" y1="501.6" x2="322.35" y2="501.6" stroke="#666" stroke-width="0.7" />
<rect x="285.55" y="551.75" width="13.8" height="15.05" fill="#ffffff" stroke="#9a9a9a" stroke-width="0.7" />
<rect x="300.05" y="536.35" width="13.8" height="30.45" fill="#b9b9b9" stroke="#8a8a8a" stroke-width="0.7" />
<rect x="314.2" y="507.5" width="14.3" height="59.3" fill="#000000" stroke="none" stroke-width="1" />
<path d="M222.8,445.2 L222.8,441.90000000000003 Q222.8,440.3 224.4,440.3 L238.39999999999998,440.3 Q239.2,440.3 239.2,435.7 Q239.2,440.3 240.0,440.3 L254.0,440.3 Q255.6,440.3 255.6,441.90000000000003 L255.6,445.2" fill="none" stroke="#000" stroke-width="0.9"/>
<path d="M235.90,429.30L235.90,426.78M235.90,429.30L238.30,428.52M235.90,429.30L237.38,431.34M235.90,429.30L234.42,431.34M235.90,429.30L233.50,428.52" stroke="#000" stroke-width="1.5" stroke-linecap="round" fill="none"/>
<path d="M243.00,429.30L243.00,426.78M243.00,429.30L245.40,428.52M243.00,429.30L244.48,431.34M243.00,429.30L241.52,431.34M243.00,429.30L240.60,428.52" stroke="#000" stroke-width="1.5" stroke-linecap="round" fill="none"/>
<path d="M238.0,462.5 L238.0,460.3 Q238.0,458.7 239.6,458.7 L245.35,458.7 Q246.15,458.7 246.15,453.8 Q246.15,458.7 246.95000000000002,458.7 L252.70000000000002,458.7 Q254.3,458.7 254.3,460.3 L254.3,462.5" fill="none" stroke="#000" stroke-width="0.9"/>
<path d="M246.10,449.00L246.10,446.57M246.10,449.00L248.41,448.25M246.10,449.00L247.53,450.97M246.10,449.00L244.67,450.97M246.10,449.00L243.79,448.25" stroke="#000" stroke-width="1.5" stroke-linecap="round" fill="none"/>
<path d="M288.5,474.0 L288.5,471.3 Q288.5,469.7 290.1,469.7 L303.8,469.7 Q304.6,469.7 304.6,466.0 Q304.6,469.7 305.40000000000003,469.7 L319.09999999999997,469.7 Q320.7,469.7 320.7,471.3 L320.7,474.0" fill="none" stroke="#000" stroke-width="0.9"/>
<path d="M301.10,458.30L301.10,455.78M301.10,458.30L303.50,457.52M301.10,458.30L302.58,460.34M301.10,458.30L299.62,460.34M301.10,458.30L298.70,457.52" stroke="#000" stroke-width="1.5" stroke-linecap="round" fill="none"/>
<path d="M308.20,458.30L308.20,455.78M308.20,458.30L310.60,457.52M308.20,458.30L309.68,460.34M308.20,458.30L306.72,460.34M308.20,458.30L305.80,457.52" stroke="#000" stroke-width="1.5" stroke-linecap="round" fill="none"/>
<path d="M304.7,490.4 L304.7,488.1 Q304.7,486.5 306.3,486.5 L311.45,486.5 Q312.25,486.5 312.25,482.9 Q312.25,486.5 313.05,486.5 L318.2,486.5 Q319.8,486.5 319.8,488.1 L319.8,490.4" fill="none" stroke="#000" stroke-width="0.9"/>
<path d="M312.30,477.30L312.30,474.87M312.30,477.30L314.61,476.55M312.30,477.30L313.73,479.27M312.30,477.30L310.87,479.27M312.30,477.30L309.99,476.55" stroke="#000" stroke-width="1.5" stroke-linecap="round" fill="none"/>
<rect x="307.4" y="410.9" width="52.400000000000034" height="34.400000000000034" fill="#fff" stroke="#333" stroke-width="1.0" />
<rect x="310.5" y="414.7" width="6.699999999999989" height="6.0" fill="#fff" stroke="#444" stroke-width="1.0" />
<text x="321.5" y="420.8" font-size="8.6" font-weight="normal" text-anchor="start" fill="#111" stroke="#111" stroke-width="0.3" stroke-linejoin="round" >wt, n=3</text>
<rect x="310.5" y="425.5" width="6.699999999999989" height="5.899999999999977" fill="#b5b5b5" stroke="#555" stroke-width="1.0" />
<text x="321.5" y="431.55" font-size="8.6" font-weight="normal" text-anchor="start" fill="#111" stroke="#111" stroke-width="0.3" stroke-linejoin="round" >het, n=3</text>
<rect x="310.5" y="435.8" width="6.699999999999989" height="5.599999999999966" fill="#000" stroke="#000" stroke-width="1.0" />
<text x="321.5" y="441.7" font-size="8.6" font-weight="normal" text-anchor="start" fill="#111" stroke="#111" stroke-width="0.3" stroke-linejoin="round" >hom, n=3</text>
<text x="240.6" y="579.7" font-size="9.8" font-weight="bold" text-anchor="middle" fill="#000" stroke="#000" stroke-width="0.38" stroke-linejoin="round" >+TPO</text>
<text x="307.0" y="579.7" font-size="9.8" font-weight="bold" text-anchor="middle" fill="#000" stroke="#000" stroke-width="0.38" stroke-linejoin="round" >-TPO</text>
<text transform="translate(183.4,509.5) rotate(-90)" font-size="10.8" font-weight="bold" text-anchor="middle" fill="#000" stroke="#000" stroke-width="0.38" stroke-linejoin="round" >Colonies numbers</text>
<text transform="translate(196.5,508.4) rotate(-90)" font-size="11.1" font-weight="bold" text-anchor="middle" fill="#000" stroke="#000" stroke-width="0.38" stroke-linejoin="round" >per 3X10<tspan font-size="7.4" dy="-3.7">5</tspan><tspan dy="3.7">BM cells</tspan></text>
<line x1="384.6" y1="448.02" x2="384.6" y2="564.3" stroke="#777" stroke-width="0.8" />
<line x1="382.8" y1="564.3" x2="384.6" y2="564.3" stroke="#777" stroke-width="0.6" />
<line x1="382.8" y1="551.38" x2="384.6" y2="551.38" stroke="#777" stroke-width="0.6" />
<line x1="382.8" y1="538.4599999999999" x2="384.6" y2="538.4599999999999" stroke="#777" stroke-width="0.6" />
<line x1="382.8" y1="525.54" x2="384.6" y2="525.54" stroke="#777" stroke-width="0.6" />
<line x1="382.8" y1="512.62" x2="384.6" y2="512.62" stroke="#777" stroke-width="0.6" />
<line x1="382.8" y1="499.69999999999993" x2="384.6" y2="499.69999999999993" stroke="#777" stroke-width="0.6" />
<line x1="382.8" y1="486.78" x2="384.6" y2="486.78" stroke="#777" stroke-width="0.6" />
<line x1="382.8" y1="473.85999999999996" x2="384.6" y2="473.85999999999996" stroke="#777" stroke-width="0.6" />
<line x1="382.8" y1="460.93999999999994" x2="384.6" y2="460.93999999999994" stroke="#777" stroke-width="0.6" />
<line x1="382.8" y1="448.02" x2="384.6" y2="448.02" stroke="#777" stroke-width="0.6" />
<text transform="translate(381.0,566.17) scale(0.85,1)" font-size="5.2" font-weight="bold" text-anchor="end" fill="#3a3a3a">0</text>
<text transform="translate(381.0,553.25) scale(0.85,1)" font-size="5.2" font-weight="bold" text-anchor="end" fill="#3a3a3a">5</text>
<text transform="translate(381.0,540.33) scale(0.85,1)" font-size="5.2" font-weight="bold" text-anchor="end" fill="#3a3a3a">10</text>
<text transform="translate(381.0,527.41) scale(0.85,1)" font-size="5.2" font-weight="bold" text-anchor="end" fill="#3a3a3a">15</text>
<text transform="translate(381.0,514.49) scale(0.85,1)" font-size="5.2" font-weight="bold" text-anchor="end" fill="#3a3a3a">20</text>
<text transform="translate(381.0,501.57) scale(0.85,1)" font-size="5.2" font-weight="bold" text-anchor="end" fill="#3a3a3a">25</text>
<text transform="translate(381.0,488.65) scale(0.85,1)" font-size="5.2" font-weight="bold" text-anchor="end" fill="#3a3a3a">30</text>
<text transform="translate(381.0,475.73) scale(0.85,1)" font-size="5.2" font-weight="bold" text-anchor="end" fill="#3a3a3a">35</text>
<text transform="translate(381.0,462.81) scale(0.85,1)" font-size="5.2" font-weight="bold" text-anchor="end" fill="#3a3a3a">40</text>
<text transform="translate(381.0,449.89) scale(0.85,1)" font-size="5.2" font-weight="bold" text-anchor="end" fill="#3a3a3a">45</text>
<line x1="384.6" y1="564.3" x2="514.6" y2="564.3" stroke="#777" stroke-width="0.8" />
<line x1="449.1" y1="564.3" x2="449.1" y2="566.5" stroke="#777" stroke-width="0.6" />
<line x1="401.55" y1="513.9" x2="401.55" y2="520.4" stroke="#888" stroke-width="0.7" />
<line x1="400.55" y1="513.9" x2="402.55" y2="513.9" stroke="#888" stroke-width="0.7" />
<line x1="416.25" y1="501.4" x2="416.25" y2="507.0" stroke="#888" stroke-width="0.7" />
<line x1="415.25" y1="501.4" x2="417.25" y2="501.4" stroke="#888" stroke-width="0.7" />
<line x1="430.79999999999995" y1="462.8" x2="430.79999999999995" y2="472.3" stroke="#666" stroke-width="0.7" />
<line x1="429.79999999999995" y1="462.8" x2="431.79999999999995" y2="462.8" stroke="#666" stroke-width="0.7" />
<rect x="394.65" y="520.75" width="13.8" height="43.55" fill="#ffffff" stroke="#9a9a9a" stroke-width="0.7" />
<rect x="409.15" y="507.35" width="14.2" height="56.95" fill="#b9b9b9" stroke="#8a8a8a" stroke-width="0.7" />
<rect x="423.7" y="472.3" width="14.2" height="92.0" fill="#000000" stroke="none" stroke-width="1" />
<line x1="466.5" y1="534.4" x2="466.5" y2="538.1" stroke="#888" stroke-width="0.7" />
<line x1="465.5" y1="534.4" x2="467.5" y2="534.4" stroke="#888" stroke-width="0.7" />
<line x1="480.9" y1="531.2" x2="480.9" y2="533.9" stroke="#888" stroke-width="0.7" />
<line x1="479.9" y1="531.2" x2="481.9" y2="531.2" stroke="#888" stroke-width="0.7" />
<line x1="495.4" y1="492.7" x2="495.4" y2="498.4" stroke="#666" stroke-width="0.7" />
<line x1="494.4" y1="492.7" x2="496.4" y2="492.7" stroke="#666" stroke-width="0.7" />
<rect x="459.75" y="538.45" width="13.5" height="25.85" fill="#ffffff" stroke="#9a9a9a" stroke-width="0.7" />
<rect x="473.95" y="534.25" width="13.9" height="30.05" fill="#b9b9b9" stroke="#8a8a8a" stroke-width="0.7" />
<rect x="488.2" y="498.4" width="14.4" height="65.9" fill="#000000" stroke="none" stroke-width="1" />
<path d="M397.0,439.7 L397.0,437.40000000000003 Q397.0,435.8 398.6,435.8 L412.2,435.8 Q413.0,435.8 413.0,431.4 Q413.0,435.8 413.8,435.8 L427.4,435.8 Q429.0,435.8 429.0,437.40000000000003 L429.0,439.7" fill="none" stroke="#000" stroke-width="0.9"/>
<path d="M410.50,423.40L410.50,420.88M410.50,423.40L412.90,422.62M410.50,423.40L411.98,425.44M410.50,423.40L409.02,425.44M410.50,423.40L408.10,422.62" stroke="#000" stroke-width="1.5" stroke-linecap="round" fill="none"/>
<path d="M418.80,423.40L418.80,420.88M418.80,423.40L421.20,422.62M418.80,423.40L420.28,425.44M418.80,423.40L417.32,425.44M418.80,423.40L416.40,422.62" stroke="#000" stroke-width="1.5" stroke-linecap="round" fill="none"/>
<path d="M412.7,457.5 L412.7,454.6 Q412.7,453.0 414.3,453.0 L419.74999999999994,453.0 Q420.54999999999995,453.0 420.54999999999995,448.6 Q420.54999999999995,453.0 421.34999999999997,453.0 L426.79999999999995,453.0 Q428.4,453.0 428.4,454.6 L428.4,457.5" fill="none" stroke="#000" stroke-width="0.9"/>
<path d="M419.50,443.20L419.50,440.77M419.50,443.20L421.81,442.45M419.50,443.20L420.93,445.17M419.50,443.20L418.07,445.17M419.50,443.20L417.19,442.45" stroke="#000" stroke-width="1.5" stroke-linecap="round" fill="none"/>
<path d="M465.6,464.5 L465.6,462.40000000000003 Q465.6,460.8 467.20000000000005,460.8 L480.7,460.8 Q481.5,460.8 481.5,456.0 Q481.5,460.8 482.3,460.8 L495.79999999999995,460.8 Q497.4,460.8 497.4,462.40000000000003 L497.4,464.5" fill="none" stroke="#000" stroke-width="0.9"/>
<path d="M478.70,449.00L478.70,446.48M478.70,449.00L481.10,448.22M478.70,449.00L480.18,451.04M478.70,449.00L477.22,451.04M478.70,449.00L476.30,448.22" stroke="#000" stroke-width="1.5" stroke-linecap="round" fill="none"/>
<path d="M485.60,449.00L485.60,446.48M485.60,449.00L488.00,448.22M485.60,449.00L487.08,451.04M485.60,449.00L484.12,451.04M485.60,449.00L483.20,448.22" stroke="#000" stroke-width="1.5" stroke-linecap="round" fill="none"/>
<path d="M481.0,481.7 L481.0,479.6 Q481.0,478.0 482.6,478.0 L488.05,478.0 Q488.85,478.0 488.85,474.3 Q488.85,478.0 489.65000000000003,478.0 L495.09999999999997,478.0 Q496.7,478.0 496.7,479.6 L496.7,481.7" fill="none" stroke="#000" stroke-width="0.9"/>
<path d="M488.40,468.90L488.40,466.47M488.40,468.90L490.71,468.15M488.40,468.90L489.83,470.87M488.40,468.90L486.97,470.87M488.40,468.90L486.09,468.15" stroke="#000" stroke-width="1.5" stroke-linecap="round" fill="none"/>
<rect x="451.5" y="408.6" width="52.30000000000001" height="33.599999999999966" fill="#fff" stroke="#333" stroke-width="1.0" />
<rect x="454.0" y="412.7" width="7.0" height="4.900000000000034" fill="#fff" stroke="#444" stroke-width="1.0" />
<text x="465.4" y="418.25" font-size="8.6" font-weight="normal" text-anchor="start" fill="#111" stroke="#111" stroke-width="0.3" stroke-linejoin="round" >wt, n=3</text>
<rect x="454.0" y="422.9" width="7.0" height="5.100000000000023" fill="#b5b5b5" stroke="#555" stroke-width="1.0" />
<text x="465.4" y="428.55" font-size="8.6" font-weight="normal" text-anchor="start" fill="#111" stroke="#111" stroke-width="0.3" stroke-linejoin="round" >het, n=3</text>
<rect x="454.0" y="433.2" width="7.0" height="5.100000000000023" fill="#000" stroke="#000" stroke-width="1.0" />
<text x="465.4" y="438.85" font-size="8.6" font-weight="normal" text-anchor="start" fill="#111" stroke="#111" stroke-width="0.3" stroke-linejoin="round" >hom, n=3</text>
<text x="411.7" y="579.7" font-size="9.8" font-weight="bold" text-anchor="middle" fill="#000" stroke="#000" stroke-width="0.38" stroke-linejoin="round" >+TPO</text>
<text x="481.5" y="579.7" font-size="9.8" font-weight="bold" text-anchor="middle" fill="#000" stroke="#000" stroke-width="0.38" stroke-linejoin="round" >-TPO</text>
<text transform="translate(355.0,516.6) rotate(-90)" font-size="9.7" font-weight="bold" text-anchor="middle" fill="#000" stroke="#000" stroke-width="0.38" stroke-linejoin="round" >Colonies numbers</text>
<text transform="translate(366.2,515.3) rotate(-90)" font-size="9.7" font-weight="bold" text-anchor="middle" fill="#000" stroke="#000" stroke-width="0.38" stroke-linejoin="round" >per 3X10<tspan font-size="6.4" dy="-3.4">6</tspan><tspan dy="3.4"> spleen cells</tspan></text>
</svg>
</body></html>
